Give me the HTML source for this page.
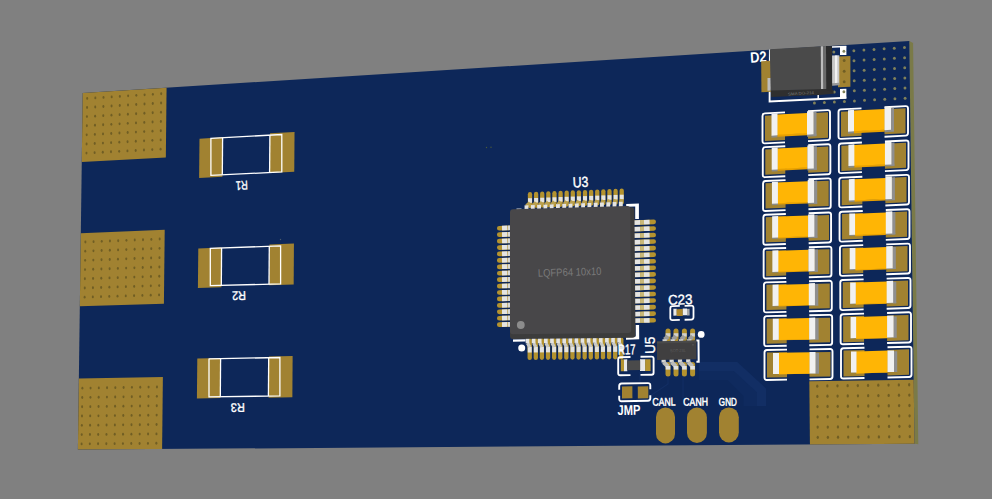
<!DOCTYPE html>
<html><head><meta charset="utf-8"><title>PCB 3D view</title>
<style>
html,body{margin:0;padding:0;background:#808080;overflow:hidden}
body{width:992px;height:499px;position:relative;font-family:"Liberation Sans",sans-serif}
</style></head><body>
<svg width="992" height="499" viewBox="0 0 992 499" style="display:block;position:absolute;left:0;top:0" font-family="'Liberation Sans', sans-serif" shape-rendering="geometricPrecision">
<polygon points="909.30,41.00 913.10,43.00 918.30,444.30 914.50,443.80" fill="#7a7a48" />
<polygon points="82.70,92.90 909.30,41.00 914.50,443.80 77.90,449.60" fill="#0d2759" />
<polyline points="699,371 731,371 752.5,392.5 752.5,406" fill="none" stroke="#0f2a5e" stroke-width="18" stroke-linejoin="miter"/>
<polyline points="699,366.5 735.5,366.5 761.5,390.4 761.5,406" fill="none" stroke="#122e64" stroke-width="9" stroke-linejoin="miter"/>
<polyline points="683.00,376.00 683.00,398.00" fill="none" stroke="#122e63" stroke-width="1.20" stroke-linejoin="round"/>
<polyline points="668.00,376.00 668.00,384.00 650.00,396.00" fill="none" stroke="#122e63" stroke-width="1.20" stroke-linejoin="round"/>
<polyline points="640.00,372.00 640.00,384.00" fill="none" stroke="#122e63" stroke-width="1.20" stroke-linejoin="round"/>
<polygon points="82.70,92.90 166.58,87.63 165.83,157.53 81.77,161.90" fill="#a18231" />
<ellipse cx="87.20" cy="98.40" rx="0.99" ry="1.43" fill="#705e24" />
<ellipse cx="87.08" cy="107.50" rx="0.99" ry="1.43" fill="#705e24" />
<ellipse cx="86.96" cy="116.61" rx="0.99" ry="1.43" fill="#705e24" />
<ellipse cx="86.84" cy="125.73" rx="0.99" ry="1.43" fill="#705e24" />
<ellipse cx="86.71" cy="134.85" rx="0.99" ry="1.43" fill="#705e24" />
<ellipse cx="86.59" cy="143.97" rx="0.99" ry="1.43" fill="#705e24" />
<ellipse cx="86.47" cy="153.10" rx="0.99" ry="1.43" fill="#705e24" />
<ellipse cx="95.34" cy="97.90" rx="1.00" ry="1.43" fill="#705e24" />
<ellipse cx="95.22" cy="107.01" rx="1.00" ry="1.43" fill="#705e24" />
<ellipse cx="95.10" cy="116.13" rx="1.00" ry="1.43" fill="#705e24" />
<ellipse cx="94.98" cy="125.26" rx="1.00" ry="1.43" fill="#705e24" />
<ellipse cx="94.86" cy="134.39" rx="1.00" ry="1.43" fill="#705e24" />
<ellipse cx="94.74" cy="143.53" rx="1.00" ry="1.43" fill="#705e24" />
<ellipse cx="94.62" cy="152.67" rx="1.00" ry="1.43" fill="#705e24" />
<ellipse cx="103.50" cy="97.39" rx="1.00" ry="1.43" fill="#705e24" />
<ellipse cx="103.38" cy="106.52" rx="1.00" ry="1.43" fill="#705e24" />
<ellipse cx="103.26" cy="115.65" rx="1.00" ry="1.43" fill="#705e24" />
<ellipse cx="103.15" cy="124.79" rx="1.00" ry="1.43" fill="#705e24" />
<ellipse cx="103.03" cy="133.93" rx="1.00" ry="1.43" fill="#705e24" />
<ellipse cx="102.91" cy="143.08" rx="1.00" ry="1.43" fill="#705e24" />
<ellipse cx="102.79" cy="152.23" rx="1.00" ry="1.43" fill="#705e24" />
<ellipse cx="111.67" cy="96.89" rx="1.00" ry="1.43" fill="#705e24" />
<ellipse cx="111.56" cy="106.02" rx="1.00" ry="1.43" fill="#705e24" />
<ellipse cx="111.45" cy="115.17" rx="1.00" ry="1.43" fill="#705e24" />
<ellipse cx="111.33" cy="124.32" rx="1.00" ry="1.43" fill="#705e24" />
<ellipse cx="111.22" cy="133.47" rx="1.00" ry="1.43" fill="#705e24" />
<ellipse cx="111.10" cy="142.63" rx="1.00" ry="1.43" fill="#705e24" />
<ellipse cx="110.99" cy="151.79" rx="1.00" ry="1.43" fill="#705e24" />
<ellipse cx="119.87" cy="96.38" rx="1.00" ry="1.44" fill="#705e24" />
<ellipse cx="119.76" cy="105.53" rx="1.00" ry="1.44" fill="#705e24" />
<ellipse cx="119.65" cy="114.68" rx="1.00" ry="1.44" fill="#705e24" />
<ellipse cx="119.54" cy="123.84" rx="1.00" ry="1.44" fill="#705e24" />
<ellipse cx="119.43" cy="133.01" rx="1.00" ry="1.44" fill="#705e24" />
<ellipse cx="119.31" cy="142.18" rx="1.00" ry="1.44" fill="#705e24" />
<ellipse cx="119.20" cy="151.36" rx="1.00" ry="1.44" fill="#705e24" />
<ellipse cx="128.10" cy="95.87" rx="1.00" ry="1.44" fill="#705e24" />
<ellipse cx="127.99" cy="105.03" rx="1.00" ry="1.44" fill="#705e24" />
<ellipse cx="127.88" cy="114.20" rx="1.00" ry="1.44" fill="#705e24" />
<ellipse cx="127.77" cy="123.37" rx="1.00" ry="1.44" fill="#705e24" />
<ellipse cx="127.66" cy="132.55" rx="1.00" ry="1.44" fill="#705e24" />
<ellipse cx="127.55" cy="141.73" rx="1.00" ry="1.44" fill="#705e24" />
<ellipse cx="127.43" cy="150.92" rx="1.00" ry="1.44" fill="#705e24" />
<ellipse cx="136.34" cy="95.36" rx="1.00" ry="1.44" fill="#705e24" />
<ellipse cx="136.23" cy="104.53" rx="1.00" ry="1.44" fill="#705e24" />
<ellipse cx="136.12" cy="113.71" rx="1.00" ry="1.44" fill="#705e24" />
<ellipse cx="136.01" cy="122.89" rx="1.00" ry="1.44" fill="#705e24" />
<ellipse cx="135.91" cy="132.08" rx="1.00" ry="1.44" fill="#705e24" />
<ellipse cx="135.80" cy="141.28" rx="1.00" ry="1.44" fill="#705e24" />
<ellipse cx="135.69" cy="150.48" rx="1.00" ry="1.44" fill="#705e24" />
<ellipse cx="144.60" cy="94.85" rx="1.01" ry="1.44" fill="#705e24" />
<ellipse cx="144.50" cy="104.03" rx="1.01" ry="1.44" fill="#705e24" />
<ellipse cx="144.39" cy="113.22" rx="1.01" ry="1.44" fill="#705e24" />
<ellipse cx="144.28" cy="122.42" rx="1.01" ry="1.44" fill="#705e24" />
<ellipse cx="144.18" cy="131.62" rx="1.01" ry="1.44" fill="#705e24" />
<ellipse cx="144.07" cy="140.82" rx="1.01" ry="1.44" fill="#705e24" />
<ellipse cx="143.97" cy="150.04" rx="1.01" ry="1.44" fill="#705e24" />
<ellipse cx="152.89" cy="94.34" rx="1.01" ry="1.44" fill="#705e24" />
<ellipse cx="152.78" cy="103.53" rx="1.01" ry="1.44" fill="#705e24" />
<ellipse cx="152.68" cy="112.73" rx="1.01" ry="1.44" fill="#705e24" />
<ellipse cx="152.58" cy="121.94" rx="1.01" ry="1.44" fill="#705e24" />
<ellipse cx="152.47" cy="131.15" rx="1.01" ry="1.44" fill="#705e24" />
<ellipse cx="152.37" cy="140.37" rx="1.01" ry="1.44" fill="#705e24" />
<ellipse cx="152.27" cy="149.59" rx="1.01" ry="1.44" fill="#705e24" />
<ellipse cx="161.19" cy="93.82" rx="1.01" ry="1.45" fill="#705e24" />
<ellipse cx="161.09" cy="103.03" rx="1.01" ry="1.45" fill="#705e24" />
<ellipse cx="160.99" cy="112.24" rx="1.01" ry="1.45" fill="#705e24" />
<ellipse cx="160.89" cy="121.46" rx="1.01" ry="1.45" fill="#705e24" />
<ellipse cx="160.79" cy="130.69" rx="1.01" ry="1.45" fill="#705e24" />
<ellipse cx="160.69" cy="139.91" rx="1.01" ry="1.45" fill="#705e24" />
<ellipse cx="160.59" cy="149.15" rx="1.01" ry="1.45" fill="#705e24" />
<polygon points="80.81,233.22 164.71,229.80 163.91,303.80 79.83,306.27" fill="#a18231" />
<ellipse cx="85.37" cy="241.99" rx="0.99" ry="1.43" fill="#705e24" />
<ellipse cx="85.25" cy="251.17" rx="0.99" ry="1.43" fill="#705e24" />
<ellipse cx="85.13" cy="260.37" rx="0.99" ry="1.43" fill="#705e24" />
<ellipse cx="85.01" cy="269.56" rx="0.99" ry="1.43" fill="#705e24" />
<ellipse cx="84.88" cy="278.77" rx="0.99" ry="1.43" fill="#705e24" />
<ellipse cx="84.76" cy="287.98" rx="0.99" ry="1.43" fill="#705e24" />
<ellipse cx="84.64" cy="297.19" rx="0.99" ry="1.43" fill="#705e24" />
<ellipse cx="93.55" cy="241.66" rx="1.00" ry="1.43" fill="#705e24" />
<ellipse cx="93.43" cy="250.86" rx="1.00" ry="1.43" fill="#705e24" />
<ellipse cx="93.31" cy="260.07" rx="1.00" ry="1.43" fill="#705e24" />
<ellipse cx="93.19" cy="269.28" rx="1.00" ry="1.43" fill="#705e24" />
<ellipse cx="93.06" cy="278.49" rx="1.00" ry="1.43" fill="#705e24" />
<ellipse cx="92.94" cy="287.71" rx="1.00" ry="1.43" fill="#705e24" />
<ellipse cx="92.82" cy="296.94" rx="1.00" ry="1.43" fill="#705e24" />
<ellipse cx="101.74" cy="241.34" rx="1.00" ry="1.43" fill="#705e24" />
<ellipse cx="101.62" cy="250.55" rx="1.00" ry="1.43" fill="#705e24" />
<ellipse cx="101.50" cy="259.77" rx="1.00" ry="1.43" fill="#705e24" />
<ellipse cx="101.39" cy="268.99" rx="1.00" ry="1.43" fill="#705e24" />
<ellipse cx="101.27" cy="278.22" rx="1.00" ry="1.43" fill="#705e24" />
<ellipse cx="101.15" cy="287.45" rx="1.00" ry="1.43" fill="#705e24" />
<ellipse cx="101.03" cy="296.69" rx="1.00" ry="1.43" fill="#705e24" />
<ellipse cx="109.95" cy="241.02" rx="1.00" ry="1.43" fill="#705e24" />
<ellipse cx="109.84" cy="250.24" rx="1.00" ry="1.43" fill="#705e24" />
<ellipse cx="109.72" cy="259.47" rx="1.00" ry="1.43" fill="#705e24" />
<ellipse cx="109.61" cy="268.70" rx="1.00" ry="1.43" fill="#705e24" />
<ellipse cx="109.49" cy="277.94" rx="1.00" ry="1.43" fill="#705e24" />
<ellipse cx="109.37" cy="287.18" rx="1.00" ry="1.43" fill="#705e24" />
<ellipse cx="109.26" cy="296.43" rx="1.00" ry="1.43" fill="#705e24" />
<ellipse cx="118.19" cy="240.69" rx="1.00" ry="1.44" fill="#705e24" />
<ellipse cx="118.08" cy="249.93" rx="1.00" ry="1.43" fill="#705e24" />
<ellipse cx="117.96" cy="259.17" rx="1.00" ry="1.43" fill="#705e24" />
<ellipse cx="117.85" cy="268.41" rx="1.00" ry="1.43" fill="#705e24" />
<ellipse cx="117.74" cy="277.66" rx="1.00" ry="1.43" fill="#705e24" />
<ellipse cx="117.62" cy="286.92" rx="1.00" ry="1.43" fill="#705e24" />
<ellipse cx="117.51" cy="296.18" rx="1.00" ry="1.43" fill="#705e24" />
<ellipse cx="126.45" cy="240.37" rx="1.00" ry="1.44" fill="#705e24" />
<ellipse cx="126.33" cy="249.61" rx="1.00" ry="1.44" fill="#705e24" />
<ellipse cx="126.22" cy="258.86" rx="1.00" ry="1.44" fill="#705e24" />
<ellipse cx="126.11" cy="268.12" rx="1.00" ry="1.44" fill="#705e24" />
<ellipse cx="126.00" cy="277.38" rx="1.00" ry="1.44" fill="#705e24" />
<ellipse cx="125.89" cy="286.65" rx="1.00" ry="1.44" fill="#705e24" />
<ellipse cx="125.78" cy="295.92" rx="1.00" ry="1.44" fill="#705e24" />
<ellipse cx="134.72" cy="240.04" rx="1.00" ry="1.44" fill="#705e24" />
<ellipse cx="134.62" cy="249.30" rx="1.00" ry="1.44" fill="#705e24" />
<ellipse cx="134.51" cy="258.56" rx="1.00" ry="1.44" fill="#705e24" />
<ellipse cx="134.40" cy="267.83" rx="1.00" ry="1.44" fill="#705e24" />
<ellipse cx="134.29" cy="277.10" rx="1.00" ry="1.44" fill="#705e24" />
<ellipse cx="134.18" cy="286.38" rx="1.00" ry="1.44" fill="#705e24" />
<ellipse cx="134.07" cy="295.67" rx="1.00" ry="1.44" fill="#705e24" />
<ellipse cx="143.02" cy="239.71" rx="1.00" ry="1.44" fill="#705e24" />
<ellipse cx="142.92" cy="248.98" rx="1.00" ry="1.44" fill="#705e24" />
<ellipse cx="142.81" cy="258.26" rx="1.00" ry="1.44" fill="#705e24" />
<ellipse cx="142.70" cy="267.54" rx="1.00" ry="1.44" fill="#705e24" />
<ellipse cx="142.60" cy="276.82" rx="1.00" ry="1.44" fill="#705e24" />
<ellipse cx="142.49" cy="286.12" rx="1.00" ry="1.44" fill="#705e24" />
<ellipse cx="142.38" cy="295.41" rx="1.00" ry="1.44" fill="#705e24" />
<ellipse cx="151.34" cy="239.38" rx="1.01" ry="1.44" fill="#705e24" />
<ellipse cx="151.24" cy="248.67" rx="1.01" ry="1.44" fill="#705e24" />
<ellipse cx="151.14" cy="257.95" rx="1.01" ry="1.44" fill="#705e24" />
<ellipse cx="151.03" cy="267.25" rx="1.01" ry="1.44" fill="#705e24" />
<ellipse cx="150.93" cy="276.54" rx="1.01" ry="1.44" fill="#705e24" />
<ellipse cx="150.82" cy="285.85" rx="1.01" ry="1.44" fill="#705e24" />
<ellipse cx="150.72" cy="295.16" rx="1.01" ry="1.44" fill="#705e24" />
<ellipse cx="159.69" cy="239.06" rx="1.01" ry="1.45" fill="#705e24" />
<ellipse cx="159.58" cy="248.35" rx="1.01" ry="1.45" fill="#705e24" />
<ellipse cx="159.48" cy="257.65" rx="1.01" ry="1.45" fill="#705e24" />
<ellipse cx="159.38" cy="266.95" rx="1.01" ry="1.45" fill="#705e24" />
<ellipse cx="159.28" cy="276.26" rx="1.01" ry="1.45" fill="#705e24" />
<ellipse cx="159.18" cy="285.58" rx="1.01" ry="1.45" fill="#705e24" />
<ellipse cx="159.07" cy="294.90" rx="1.01" ry="1.45" fill="#705e24" />
<polygon points="78.86,378.54 162.88,377.03 162.10,449.02 77.90,449.60" fill="#a18231" />
<ellipse cx="82.36" cy="388.19" rx="0.99" ry="1.43" fill="#705e24" />
<ellipse cx="82.23" cy="397.47" rx="0.99" ry="1.43" fill="#705e24" />
<ellipse cx="82.11" cy="406.74" rx="0.99" ry="1.43" fill="#705e24" />
<ellipse cx="81.99" cy="416.02" rx="0.99" ry="1.43" fill="#705e24" />
<ellipse cx="81.86" cy="425.31" rx="0.99" ry="1.43" fill="#705e24" />
<ellipse cx="81.74" cy="434.60" rx="0.99" ry="1.42" fill="#705e24" />
<ellipse cx="81.61" cy="443.90" rx="0.99" ry="1.42" fill="#705e24" />
<ellipse cx="90.56" cy="388.06" rx="0.99" ry="1.43" fill="#705e24" />
<ellipse cx="90.44" cy="397.34" rx="0.99" ry="1.43" fill="#705e24" />
<ellipse cx="90.32" cy="406.63" rx="0.99" ry="1.43" fill="#705e24" />
<ellipse cx="90.20" cy="415.92" rx="0.99" ry="1.43" fill="#705e24" />
<ellipse cx="90.08" cy="425.22" rx="0.99" ry="1.43" fill="#705e24" />
<ellipse cx="89.95" cy="434.53" rx="0.99" ry="1.43" fill="#705e24" />
<ellipse cx="89.83" cy="443.84" rx="0.99" ry="1.43" fill="#705e24" />
<ellipse cx="98.79" cy="387.92" rx="1.00" ry="1.43" fill="#705e24" />
<ellipse cx="98.67" cy="397.22" rx="1.00" ry="1.43" fill="#705e24" />
<ellipse cx="98.55" cy="406.52" rx="1.00" ry="1.43" fill="#705e24" />
<ellipse cx="98.43" cy="415.82" rx="1.00" ry="1.43" fill="#705e24" />
<ellipse cx="98.31" cy="425.14" rx="1.00" ry="1.43" fill="#705e24" />
<ellipse cx="98.19" cy="434.45" rx="1.00" ry="1.43" fill="#705e24" />
<ellipse cx="98.07" cy="443.77" rx="1.00" ry="1.43" fill="#705e24" />
<ellipse cx="107.04" cy="387.79" rx="1.00" ry="1.43" fill="#705e24" />
<ellipse cx="106.92" cy="397.09" rx="1.00" ry="1.43" fill="#705e24" />
<ellipse cx="106.80" cy="406.41" rx="1.00" ry="1.43" fill="#705e24" />
<ellipse cx="106.69" cy="415.72" rx="1.00" ry="1.43" fill="#705e24" />
<ellipse cx="106.57" cy="425.05" rx="1.00" ry="1.43" fill="#705e24" />
<ellipse cx="106.45" cy="434.38" rx="1.00" ry="1.43" fill="#705e24" />
<ellipse cx="106.33" cy="443.71" rx="1.00" ry="1.43" fill="#705e24" />
<ellipse cx="115.31" cy="387.65" rx="1.00" ry="1.43" fill="#705e24" />
<ellipse cx="115.19" cy="396.97" rx="1.00" ry="1.43" fill="#705e24" />
<ellipse cx="115.08" cy="406.29" rx="1.00" ry="1.43" fill="#705e24" />
<ellipse cx="114.96" cy="415.62" rx="1.00" ry="1.43" fill="#705e24" />
<ellipse cx="114.85" cy="424.96" rx="1.00" ry="1.43" fill="#705e24" />
<ellipse cx="114.73" cy="434.30" rx="1.00" ry="1.43" fill="#705e24" />
<ellipse cx="114.62" cy="443.65" rx="1.00" ry="1.43" fill="#705e24" />
<ellipse cx="123.60" cy="387.51" rx="1.00" ry="1.44" fill="#705e24" />
<ellipse cx="123.48" cy="396.84" rx="1.00" ry="1.44" fill="#705e24" />
<ellipse cx="123.37" cy="406.18" rx="1.00" ry="1.44" fill="#705e24" />
<ellipse cx="123.26" cy="415.52" rx="1.00" ry="1.44" fill="#705e24" />
<ellipse cx="123.15" cy="424.87" rx="1.00" ry="1.44" fill="#705e24" />
<ellipse cx="123.03" cy="434.22" rx="1.00" ry="1.44" fill="#705e24" />
<ellipse cx="122.92" cy="443.58" rx="1.00" ry="1.44" fill="#705e24" />
<ellipse cx="131.91" cy="387.37" rx="1.00" ry="1.44" fill="#705e24" />
<ellipse cx="131.80" cy="396.72" rx="1.00" ry="1.44" fill="#705e24" />
<ellipse cx="131.69" cy="406.07" rx="1.00" ry="1.44" fill="#705e24" />
<ellipse cx="131.58" cy="415.42" rx="1.00" ry="1.44" fill="#705e24" />
<ellipse cx="131.47" cy="424.78" rx="1.00" ry="1.44" fill="#705e24" />
<ellipse cx="131.36" cy="434.14" rx="1.00" ry="1.44" fill="#705e24" />
<ellipse cx="131.25" cy="443.52" rx="1.00" ry="1.44" fill="#705e24" />
<ellipse cx="140.24" cy="387.24" rx="1.00" ry="1.44" fill="#705e24" />
<ellipse cx="140.13" cy="396.59" rx="1.00" ry="1.44" fill="#705e24" />
<ellipse cx="140.03" cy="405.95" rx="1.00" ry="1.44" fill="#705e24" />
<ellipse cx="139.92" cy="415.32" rx="1.00" ry="1.44" fill="#705e24" />
<ellipse cx="139.81" cy="424.69" rx="1.00" ry="1.44" fill="#705e24" />
<ellipse cx="139.70" cy="434.07" rx="1.00" ry="1.44" fill="#705e24" />
<ellipse cx="139.59" cy="443.45" rx="1.00" ry="1.44" fill="#705e24" />
<ellipse cx="148.60" cy="387.10" rx="1.01" ry="1.44" fill="#705e24" />
<ellipse cx="148.49" cy="396.47" rx="1.01" ry="1.44" fill="#705e24" />
<ellipse cx="148.38" cy="405.84" rx="1.01" ry="1.44" fill="#705e24" />
<ellipse cx="148.28" cy="415.22" rx="1.01" ry="1.44" fill="#705e24" />
<ellipse cx="148.17" cy="424.60" rx="1.01" ry="1.44" fill="#705e24" />
<ellipse cx="148.07" cy="433.99" rx="1.01" ry="1.44" fill="#705e24" />
<ellipse cx="147.96" cy="443.38" rx="1.01" ry="1.44" fill="#705e24" />
<ellipse cx="156.97" cy="386.96" rx="1.01" ry="1.45" fill="#705e24" />
<ellipse cx="156.87" cy="396.34" rx="1.01" ry="1.45" fill="#705e24" />
<ellipse cx="156.77" cy="405.72" rx="1.01" ry="1.45" fill="#705e24" />
<ellipse cx="156.66" cy="415.11" rx="1.01" ry="1.45" fill="#705e24" />
<ellipse cx="156.56" cy="424.51" rx="1.01" ry="1.45" fill="#705e24" />
<ellipse cx="156.46" cy="433.91" rx="1.01" ry="1.45" fill="#705e24" />
<ellipse cx="156.35" cy="443.32" rx="1.01" ry="1.45" fill="#705e24" />
<polygon points="809.32,381.30 913.67,379.65 914.50,443.80 809.93,444.52" fill="#a18231" />
<ellipse cx="817.26" cy="386.15" rx="1.13" ry="1.63" fill="#705e24" />
<ellipse cx="817.37" cy="396.38" rx="1.13" ry="1.63" fill="#705e24" />
<ellipse cx="817.47" cy="406.61" rx="1.13" ry="1.63" fill="#705e24" />
<ellipse cx="817.57" cy="416.86" rx="1.13" ry="1.63" fill="#705e24" />
<ellipse cx="817.67" cy="427.11" rx="1.13" ry="1.63" fill="#705e24" />
<ellipse cx="817.77" cy="437.36" rx="1.13" ry="1.63" fill="#705e24" />
<ellipse cx="827.36" cy="385.99" rx="1.14" ry="1.63" fill="#705e24" />
<ellipse cx="827.47" cy="396.24" rx="1.14" ry="1.63" fill="#705e24" />
<ellipse cx="827.57" cy="406.49" rx="1.14" ry="1.63" fill="#705e24" />
<ellipse cx="827.68" cy="416.75" rx="1.14" ry="1.63" fill="#705e24" />
<ellipse cx="827.78" cy="427.01" rx="1.14" ry="1.63" fill="#705e24" />
<ellipse cx="827.88" cy="437.28" rx="1.14" ry="1.63" fill="#705e24" />
<ellipse cx="837.49" cy="385.84" rx="1.14" ry="1.63" fill="#705e24" />
<ellipse cx="837.60" cy="396.10" rx="1.14" ry="1.63" fill="#705e24" />
<ellipse cx="837.70" cy="406.37" rx="1.14" ry="1.63" fill="#705e24" />
<ellipse cx="837.81" cy="416.64" rx="1.14" ry="1.63" fill="#705e24" />
<ellipse cx="837.92" cy="426.92" rx="1.14" ry="1.63" fill="#705e24" />
<ellipse cx="838.03" cy="437.20" rx="1.14" ry="1.63" fill="#705e24" />
<ellipse cx="847.64" cy="385.69" rx="1.14" ry="1.64" fill="#705e24" />
<ellipse cx="847.75" cy="395.96" rx="1.14" ry="1.64" fill="#705e24" />
<ellipse cx="847.87" cy="406.24" rx="1.14" ry="1.64" fill="#705e24" />
<ellipse cx="847.98" cy="416.53" rx="1.14" ry="1.64" fill="#705e24" />
<ellipse cx="848.09" cy="426.82" rx="1.14" ry="1.64" fill="#705e24" />
<ellipse cx="848.20" cy="437.12" rx="1.14" ry="1.64" fill="#705e24" />
<ellipse cx="857.83" cy="385.53" rx="1.14" ry="1.64" fill="#705e24" />
<ellipse cx="857.94" cy="395.82" rx="1.14" ry="1.64" fill="#705e24" />
<ellipse cx="858.06" cy="406.12" rx="1.14" ry="1.64" fill="#705e24" />
<ellipse cx="858.17" cy="416.42" rx="1.14" ry="1.64" fill="#705e24" />
<ellipse cx="858.29" cy="426.73" rx="1.14" ry="1.64" fill="#705e24" />
<ellipse cx="858.40" cy="437.04" rx="1.14" ry="1.64" fill="#705e24" />
<ellipse cx="868.04" cy="385.38" rx="1.14" ry="1.64" fill="#705e24" />
<ellipse cx="868.16" cy="395.68" rx="1.14" ry="1.64" fill="#705e24" />
<ellipse cx="868.28" cy="405.99" rx="1.14" ry="1.64" fill="#705e24" />
<ellipse cx="868.39" cy="416.31" rx="1.14" ry="1.64" fill="#705e24" />
<ellipse cx="868.51" cy="426.63" rx="1.14" ry="1.64" fill="#705e24" />
<ellipse cx="868.63" cy="436.96" rx="1.14" ry="1.64" fill="#705e24" />
<ellipse cx="878.28" cy="385.22" rx="1.15" ry="1.64" fill="#705e24" />
<ellipse cx="878.40" cy="395.54" rx="1.15" ry="1.64" fill="#705e24" />
<ellipse cx="878.53" cy="405.86" rx="1.15" ry="1.64" fill="#705e24" />
<ellipse cx="878.65" cy="416.20" rx="1.15" ry="1.64" fill="#705e24" />
<ellipse cx="878.77" cy="426.53" rx="1.15" ry="1.64" fill="#705e24" />
<ellipse cx="878.89" cy="436.88" rx="1.15" ry="1.64" fill="#705e24" />
<ellipse cx="888.55" cy="385.07" rx="1.15" ry="1.65" fill="#705e24" />
<ellipse cx="888.68" cy="395.40" rx="1.15" ry="1.65" fill="#705e24" />
<ellipse cx="888.80" cy="405.74" rx="1.15" ry="1.65" fill="#705e24" />
<ellipse cx="888.93" cy="416.08" rx="1.15" ry="1.65" fill="#705e24" />
<ellipse cx="889.05" cy="426.44" rx="1.15" ry="1.65" fill="#705e24" />
<ellipse cx="889.18" cy="436.80" rx="1.15" ry="1.65" fill="#705e24" />
<ellipse cx="898.85" cy="384.91" rx="1.15" ry="1.65" fill="#705e24" />
<ellipse cx="898.98" cy="395.26" rx="1.15" ry="1.65" fill="#705e24" />
<ellipse cx="899.11" cy="405.61" rx="1.15" ry="1.65" fill="#705e24" />
<ellipse cx="899.24" cy="415.97" rx="1.15" ry="1.65" fill="#705e24" />
<ellipse cx="899.37" cy="426.34" rx="1.15" ry="1.65" fill="#705e24" />
<ellipse cx="899.50" cy="436.71" rx="1.15" ry="1.65" fill="#705e24" />
<ellipse cx="909.18" cy="384.76" rx="1.15" ry="1.65" fill="#705e24" />
<ellipse cx="909.32" cy="395.12" rx="1.15" ry="1.65" fill="#705e24" />
<ellipse cx="909.45" cy="405.49" rx="1.15" ry="1.65" fill="#705e24" />
<ellipse cx="909.58" cy="415.86" rx="1.15" ry="1.65" fill="#705e24" />
<ellipse cx="909.71" cy="426.24" rx="1.15" ry="1.65" fill="#705e24" />
<ellipse cx="909.85" cy="436.63" rx="1.15" ry="1.65" fill="#705e24" />
<ellipse cx="814.42" cy="103.12" rx="1.45" ry="1.50" fill="#80815a" />
<ellipse cx="824.38" cy="102.57" rx="1.45" ry="1.50" fill="#80815a" />
<ellipse cx="833.85" cy="51.94" rx="1.45" ry="1.50" fill="#80815a" />
<ellipse cx="834.27" cy="92.00" rx="1.45" ry="1.50" fill="#80815a" />
<ellipse cx="834.38" cy="102.03" rx="1.45" ry="1.50" fill="#80815a" />
<ellipse cx="844.40" cy="101.48" rx="1.45" ry="1.50" fill="#80815a" />
<ellipse cx="853.88" cy="50.70" rx="1.45" ry="1.50" fill="#80815a" />
<ellipse cx="854.00" cy="60.73" rx="1.45" ry="1.50" fill="#80815a" />
<ellipse cx="854.11" cy="70.77" rx="1.45" ry="1.50" fill="#80815a" />
<ellipse cx="854.22" cy="80.82" rx="1.45" ry="1.50" fill="#80815a" />
<ellipse cx="854.33" cy="90.87" rx="1.45" ry="1.50" fill="#80815a" />
<ellipse cx="854.44" cy="100.92" rx="1.45" ry="1.50" fill="#80815a" />
<ellipse cx="863.94" cy="50.08" rx="1.45" ry="1.50" fill="#80815a" />
<ellipse cx="864.06" cy="60.12" rx="1.45" ry="1.50" fill="#80815a" />
<ellipse cx="864.17" cy="70.18" rx="1.45" ry="1.50" fill="#80815a" />
<ellipse cx="864.29" cy="80.23" rx="1.45" ry="1.50" fill="#80815a" />
<ellipse cx="864.40" cy="90.30" rx="1.45" ry="1.50" fill="#80815a" />
<ellipse cx="864.52" cy="100.37" rx="1.45" ry="1.50" fill="#80815a" />
<ellipse cx="874.03" cy="49.45" rx="1.45" ry="1.50" fill="#80815a" />
<ellipse cx="874.15" cy="59.51" rx="1.45" ry="1.50" fill="#80815a" />
<ellipse cx="874.27" cy="69.58" rx="1.45" ry="1.50" fill="#80815a" />
<ellipse cx="874.39" cy="79.65" rx="1.45" ry="1.50" fill="#80815a" />
<ellipse cx="874.51" cy="89.73" rx="1.45" ry="1.50" fill="#80815a" />
<ellipse cx="874.62" cy="99.82" rx="1.45" ry="1.50" fill="#80815a" />
<ellipse cx="884.15" cy="48.83" rx="1.45" ry="1.50" fill="#80815a" />
<ellipse cx="884.27" cy="58.90" rx="1.45" ry="1.50" fill="#80815a" />
<ellipse cx="884.39" cy="68.98" rx="1.45" ry="1.50" fill="#80815a" />
<ellipse cx="884.51" cy="79.07" rx="1.45" ry="1.50" fill="#80815a" />
<ellipse cx="884.63" cy="89.16" rx="1.45" ry="1.50" fill="#80815a" />
<ellipse cx="884.76" cy="99.26" rx="1.45" ry="1.50" fill="#80815a" />
<ellipse cx="894.29" cy="48.20" rx="1.45" ry="1.50" fill="#80815a" />
<ellipse cx="894.42" cy="58.29" rx="1.45" ry="1.50" fill="#80815a" />
<ellipse cx="894.54" cy="68.38" rx="1.45" ry="1.50" fill="#80815a" />
<ellipse cx="894.67" cy="78.48" rx="1.45" ry="1.50" fill="#80815a" />
<ellipse cx="894.79" cy="88.59" rx="1.45" ry="1.50" fill="#80815a" />
<ellipse cx="894.92" cy="98.70" rx="1.45" ry="1.50" fill="#80815a" />
<ellipse cx="904.46" cy="47.57" rx="1.45" ry="1.50" fill="#80815a" />
<ellipse cx="904.59" cy="57.67" rx="1.45" ry="1.50" fill="#80815a" />
<ellipse cx="904.72" cy="67.78" rx="1.45" ry="1.50" fill="#80815a" />
<ellipse cx="904.85" cy="77.89" rx="1.45" ry="1.50" fill="#80815a" />
<ellipse cx="904.98" cy="88.02" rx="1.45" ry="1.50" fill="#80815a" />
<ellipse cx="905.11" cy="98.14" rx="1.45" ry="1.50" fill="#80815a" />
<ellipse cx="486.50" cy="147.50" rx="0.70" ry="0.70" fill="#4a5a3a" />
<ellipse cx="491.00" cy="147.30" rx="0.70" ry="0.70" fill="#4a5a3a" />
<ellipse cx="280.50" cy="239.50" rx="0.70" ry="0.70" fill="#4a5a6a" />
<polygon points="199.49,138.63 222.78,137.35 222.43,176.84 199.10,177.98" fill="#a18231" />
<polygon points="270.04,133.26 294.54,131.92 294.27,171.81 269.75,173.01" fill="#a18231" />
<polyline points="210.90,138.30 281.80,134.50 281.80,172.00 210.90,175.30 210.90,137.80" fill="none" stroke="#ffffff" stroke-width="1.30" />
<polyline points="222.60,137.67 222.30,174.76" fill="none" stroke="#ffffff" stroke-width="1.30" />
<polyline points="269.90,135.14 269.60,172.55" fill="none" stroke="#ffffff" stroke-width="1.30" />
<text x="241.80" y="190.07" font-size="12.50" font-weight="normal" fill="#fff" stroke="#fff" stroke-width="0.40" text-anchor="middle" transform="rotate(177.30 241.80 185.60)" textLength="11.8" lengthAdjust="spacingAndGlyphs" >R1</text>
<polygon points="198.29,248.44 221.78,247.55 221.43,287.13 197.90,287.88" fill="#a18231" />
<polygon points="269.45,244.46 293.94,243.53 293.67,284.42 269.14,285.19" fill="#a18231" />
<polyline points="210.30,248.30 280.60,245.90 280.60,283.90 210.30,285.60 210.30,247.80" fill="none" stroke="#ffffff" stroke-width="1.30" />
<polyline points="221.60,247.91 221.30,285.33" fill="none" stroke="#ffffff" stroke-width="1.30" />
<polyline points="269.30,246.29 269.00,284.17" fill="none" stroke="#ffffff" stroke-width="1.30" />
<text x="239.10" y="300.28" font-size="12.50" font-weight="normal" fill="#fff" stroke="#fff" stroke-width="0.40" text-anchor="middle" transform="rotate(178.27 239.10 295.80)" textLength="13.8" lengthAdjust="spacingAndGlyphs" >R2</text>
<polygon points="197.29,358.44 220.78,357.95 220.42,398.03 196.90,398.38" fill="#a18231" />
<polygon points="268.85,356.45 292.64,355.95 292.36,397.33 268.54,397.68" fill="#a18231" />
<polyline points="209.00,358.90 279.90,357.50 279.90,395.90 209.00,396.90 209.00,358.40" fill="none" stroke="#ffffff" stroke-width="1.30" />
<polyline points="220.60,358.67 220.30,396.74" fill="none" stroke="#ffffff" stroke-width="1.30" />
<polyline points="268.70,357.72 268.40,396.06" fill="none" stroke="#ffffff" stroke-width="1.30" />
<text x="237.80" y="412.18" font-size="12.50" font-weight="normal" fill="#fff" stroke="#fff" stroke-width="0.40" text-anchor="middle" transform="rotate(179.25 237.80 407.70)" textLength="13.8" lengthAdjust="spacingAndGlyphs" >R3</text>
<line x1="530.00" y1="194.15" x2="530.00" y2="206.00" stroke="#b4932f" stroke-width="4.30" stroke-linecap="round"/>
<line x1="530.00" y1="198.20" x2="530.00" y2="202.80" stroke="#e4e4e2" stroke-width="4.00" stroke-linecap="butt"/>
<line x1="530.00" y1="202.80" x2="526.50" y2="205.80" stroke="#b9a050" stroke-width="3.70" stroke-linecap="butt"/>
<line x1="526.50" y1="205.30" x2="526.50" y2="211.50" stroke="#e4e4e2" stroke-width="3.90" stroke-linecap="butt"/>
<line x1="536.11" y1="193.92" x2="536.11" y2="205.77" stroke="#b4932f" stroke-width="4.30" stroke-linecap="round"/>
<line x1="536.11" y1="197.97" x2="536.11" y2="202.57" stroke="#e4e4e2" stroke-width="4.00" stroke-linecap="butt"/>
<line x1="536.11" y1="202.57" x2="532.79" y2="205.57" stroke="#b9a050" stroke-width="3.70" stroke-linecap="butt"/>
<line x1="532.79" y1="205.07" x2="532.79" y2="211.27" stroke="#e4e4e2" stroke-width="3.90" stroke-linecap="butt"/>
<line x1="542.23" y1="193.68" x2="542.23" y2="205.53" stroke="#b4932f" stroke-width="4.30" stroke-linecap="round"/>
<line x1="542.23" y1="197.73" x2="542.23" y2="202.33" stroke="#e4e4e2" stroke-width="4.00" stroke-linecap="butt"/>
<line x1="542.23" y1="202.33" x2="539.07" y2="205.33" stroke="#b9a050" stroke-width="3.70" stroke-linecap="butt"/>
<line x1="539.07" y1="204.83" x2="539.07" y2="211.03" stroke="#e4e4e2" stroke-width="3.90" stroke-linecap="butt"/>
<line x1="548.34" y1="193.45" x2="548.34" y2="205.30" stroke="#b4932f" stroke-width="4.30" stroke-linecap="round"/>
<line x1="548.34" y1="197.50" x2="548.34" y2="202.10" stroke="#e4e4e2" stroke-width="4.00" stroke-linecap="butt"/>
<line x1="548.34" y1="202.10" x2="545.36" y2="205.10" stroke="#b9a050" stroke-width="3.70" stroke-linecap="butt"/>
<line x1="545.36" y1="204.60" x2="545.36" y2="210.80" stroke="#e4e4e2" stroke-width="3.90" stroke-linecap="butt"/>
<line x1="554.45" y1="193.22" x2="554.45" y2="205.07" stroke="#b4932f" stroke-width="4.30" stroke-linecap="round"/>
<line x1="554.45" y1="197.27" x2="554.45" y2="201.87" stroke="#e4e4e2" stroke-width="4.00" stroke-linecap="butt"/>
<line x1="554.45" y1="201.87" x2="551.65" y2="204.87" stroke="#b9a050" stroke-width="3.70" stroke-linecap="butt"/>
<line x1="551.65" y1="204.37" x2="551.65" y2="210.57" stroke="#e4e4e2" stroke-width="3.90" stroke-linecap="butt"/>
<line x1="560.57" y1="192.98" x2="560.57" y2="204.83" stroke="#b4932f" stroke-width="4.30" stroke-linecap="round"/>
<line x1="560.57" y1="197.03" x2="560.57" y2="201.63" stroke="#e4e4e2" stroke-width="4.00" stroke-linecap="butt"/>
<line x1="560.57" y1="201.63" x2="557.93" y2="204.63" stroke="#b9a050" stroke-width="3.70" stroke-linecap="butt"/>
<line x1="557.93" y1="204.13" x2="557.93" y2="210.33" stroke="#e4e4e2" stroke-width="3.90" stroke-linecap="butt"/>
<line x1="566.68" y1="192.75" x2="566.68" y2="204.60" stroke="#b4932f" stroke-width="4.30" stroke-linecap="round"/>
<line x1="566.68" y1="196.80" x2="566.68" y2="201.40" stroke="#e4e4e2" stroke-width="4.00" stroke-linecap="butt"/>
<line x1="566.68" y1="201.40" x2="564.22" y2="204.40" stroke="#b9a050" stroke-width="3.70" stroke-linecap="butt"/>
<line x1="564.22" y1="203.90" x2="564.22" y2="210.10" stroke="#e4e4e2" stroke-width="3.90" stroke-linecap="butt"/>
<line x1="572.79" y1="192.52" x2="572.79" y2="204.37" stroke="#b4932f" stroke-width="4.30" stroke-linecap="round"/>
<line x1="572.79" y1="196.57" x2="572.79" y2="201.17" stroke="#e4e4e2" stroke-width="4.00" stroke-linecap="butt"/>
<line x1="572.79" y1="201.17" x2="570.51" y2="204.17" stroke="#b9a050" stroke-width="3.70" stroke-linecap="butt"/>
<line x1="570.51" y1="203.67" x2="570.51" y2="209.87" stroke="#e4e4e2" stroke-width="3.90" stroke-linecap="butt"/>
<line x1="578.91" y1="192.28" x2="578.91" y2="204.13" stroke="#b4932f" stroke-width="4.30" stroke-linecap="round"/>
<line x1="578.91" y1="196.33" x2="578.91" y2="200.93" stroke="#e4e4e2" stroke-width="4.00" stroke-linecap="butt"/>
<line x1="578.91" y1="200.93" x2="576.79" y2="203.93" stroke="#b9a050" stroke-width="3.70" stroke-linecap="butt"/>
<line x1="576.79" y1="203.43" x2="576.79" y2="209.63" stroke="#e4e4e2" stroke-width="3.90" stroke-linecap="butt"/>
<line x1="585.02" y1="192.05" x2="585.02" y2="203.90" stroke="#b4932f" stroke-width="4.30" stroke-linecap="round"/>
<line x1="585.02" y1="196.10" x2="585.02" y2="200.70" stroke="#e4e4e2" stroke-width="4.00" stroke-linecap="butt"/>
<line x1="585.02" y1="200.70" x2="583.08" y2="203.70" stroke="#b9a050" stroke-width="3.70" stroke-linecap="butt"/>
<line x1="583.08" y1="203.20" x2="583.08" y2="209.40" stroke="#e4e4e2" stroke-width="3.90" stroke-linecap="butt"/>
<line x1="591.13" y1="191.82" x2="591.13" y2="203.67" stroke="#b4932f" stroke-width="4.30" stroke-linecap="round"/>
<line x1="591.13" y1="195.87" x2="591.13" y2="200.47" stroke="#e4e4e2" stroke-width="4.00" stroke-linecap="butt"/>
<line x1="591.13" y1="200.47" x2="589.37" y2="203.47" stroke="#b9a050" stroke-width="3.70" stroke-linecap="butt"/>
<line x1="589.37" y1="202.97" x2="589.37" y2="209.17" stroke="#e4e4e2" stroke-width="3.90" stroke-linecap="butt"/>
<line x1="597.25" y1="191.58" x2="597.25" y2="203.43" stroke="#b4932f" stroke-width="4.30" stroke-linecap="round"/>
<line x1="597.25" y1="195.63" x2="597.25" y2="200.23" stroke="#e4e4e2" stroke-width="4.00" stroke-linecap="butt"/>
<line x1="597.25" y1="200.23" x2="595.65" y2="203.23" stroke="#b9a050" stroke-width="3.70" stroke-linecap="butt"/>
<line x1="595.65" y1="202.73" x2="595.65" y2="208.93" stroke="#e4e4e2" stroke-width="3.90" stroke-linecap="butt"/>
<line x1="603.36" y1="191.35" x2="603.36" y2="203.20" stroke="#b4932f" stroke-width="4.30" stroke-linecap="round"/>
<line x1="603.36" y1="195.40" x2="603.36" y2="200.00" stroke="#e4e4e2" stroke-width="4.00" stroke-linecap="butt"/>
<line x1="603.36" y1="200.00" x2="601.94" y2="203.00" stroke="#b9a050" stroke-width="3.70" stroke-linecap="butt"/>
<line x1="601.94" y1="202.50" x2="601.94" y2="208.70" stroke="#e4e4e2" stroke-width="3.90" stroke-linecap="butt"/>
<line x1="609.47" y1="191.12" x2="609.47" y2="202.97" stroke="#b4932f" stroke-width="4.30" stroke-linecap="round"/>
<line x1="609.47" y1="195.17" x2="609.47" y2="199.77" stroke="#e4e4e2" stroke-width="4.00" stroke-linecap="butt"/>
<line x1="609.47" y1="199.77" x2="608.23" y2="202.77" stroke="#b9a050" stroke-width="3.70" stroke-linecap="butt"/>
<line x1="608.23" y1="202.27" x2="608.23" y2="208.47" stroke="#e4e4e2" stroke-width="3.90" stroke-linecap="butt"/>
<line x1="615.59" y1="190.88" x2="615.59" y2="202.73" stroke="#b4932f" stroke-width="4.30" stroke-linecap="round"/>
<line x1="615.59" y1="194.93" x2="615.59" y2="199.53" stroke="#e4e4e2" stroke-width="4.00" stroke-linecap="butt"/>
<line x1="615.59" y1="199.53" x2="614.51" y2="202.53" stroke="#b9a050" stroke-width="3.70" stroke-linecap="butt"/>
<line x1="614.51" y1="202.03" x2="614.51" y2="208.23" stroke="#e4e4e2" stroke-width="3.90" stroke-linecap="butt"/>
<line x1="621.70" y1="190.65" x2="621.70" y2="202.50" stroke="#b4932f" stroke-width="4.30" stroke-linecap="round"/>
<line x1="621.70" y1="194.70" x2="621.70" y2="199.30" stroke="#e4e4e2" stroke-width="4.00" stroke-linecap="butt"/>
<line x1="621.70" y1="199.30" x2="620.80" y2="202.30" stroke="#b9a050" stroke-width="3.70" stroke-linecap="butt"/>
<line x1="620.80" y1="201.80" x2="620.80" y2="208.00" stroke="#e4e4e2" stroke-width="3.90" stroke-linecap="butt"/>
<line x1="529.70" y1="357.95" x2="529.70" y2="340.10" stroke="#b4932f" stroke-width="4.30" stroke-linecap="round"/>
<line x1="529.70" y1="352.50" x2="529.70" y2="346.80" stroke="#e4e4e2" stroke-width="4.00" stroke-linecap="butt"/>
<line x1="529.70" y1="347.10" x2="527.50" y2="343.10" stroke="#c9c9c5" stroke-width="3.30" stroke-linecap="butt"/>
<line x1="527.50" y1="343.30" x2="527.50" y2="337.60" stroke="#e4e4e2" stroke-width="3.70" stroke-linecap="butt"/>
<line x1="535.81" y1="357.90" x2="535.81" y2="340.05" stroke="#b4932f" stroke-width="4.30" stroke-linecap="round"/>
<line x1="535.81" y1="352.45" x2="535.81" y2="346.75" stroke="#e4e4e2" stroke-width="4.00" stroke-linecap="butt"/>
<line x1="535.81" y1="347.05" x2="533.61" y2="343.05" stroke="#c9c9c5" stroke-width="3.30" stroke-linecap="butt"/>
<line x1="533.61" y1="343.25" x2="533.61" y2="337.55" stroke="#e4e4e2" stroke-width="3.70" stroke-linecap="butt"/>
<line x1="541.91" y1="357.86" x2="541.91" y2="340.01" stroke="#b4932f" stroke-width="4.30" stroke-linecap="round"/>
<line x1="541.91" y1="352.41" x2="541.91" y2="346.71" stroke="#e4e4e2" stroke-width="4.00" stroke-linecap="butt"/>
<line x1="541.91" y1="347.01" x2="539.71" y2="343.01" stroke="#c9c9c5" stroke-width="3.30" stroke-linecap="butt"/>
<line x1="539.71" y1="343.21" x2="539.71" y2="337.51" stroke="#e4e4e2" stroke-width="3.70" stroke-linecap="butt"/>
<line x1="548.02" y1="357.81" x2="548.02" y2="339.96" stroke="#b4932f" stroke-width="4.30" stroke-linecap="round"/>
<line x1="548.02" y1="352.36" x2="548.02" y2="346.66" stroke="#e4e4e2" stroke-width="4.00" stroke-linecap="butt"/>
<line x1="548.02" y1="346.96" x2="545.82" y2="342.96" stroke="#c9c9c5" stroke-width="3.30" stroke-linecap="butt"/>
<line x1="545.82" y1="343.16" x2="545.82" y2="337.46" stroke="#e4e4e2" stroke-width="3.70" stroke-linecap="butt"/>
<line x1="554.13" y1="357.76" x2="554.13" y2="339.91" stroke="#b4932f" stroke-width="4.30" stroke-linecap="round"/>
<line x1="554.13" y1="352.31" x2="554.13" y2="346.61" stroke="#e4e4e2" stroke-width="4.00" stroke-linecap="butt"/>
<line x1="554.13" y1="346.91" x2="551.93" y2="342.91" stroke="#c9c9c5" stroke-width="3.30" stroke-linecap="butt"/>
<line x1="551.93" y1="343.11" x2="551.93" y2="337.41" stroke="#e4e4e2" stroke-width="3.70" stroke-linecap="butt"/>
<line x1="560.23" y1="357.72" x2="560.23" y2="339.87" stroke="#b4932f" stroke-width="4.30" stroke-linecap="round"/>
<line x1="560.23" y1="352.27" x2="560.23" y2="346.57" stroke="#e4e4e2" stroke-width="4.00" stroke-linecap="butt"/>
<line x1="560.23" y1="346.87" x2="558.03" y2="342.87" stroke="#c9c9c5" stroke-width="3.30" stroke-linecap="butt"/>
<line x1="558.03" y1="343.07" x2="558.03" y2="337.37" stroke="#e4e4e2" stroke-width="3.70" stroke-linecap="butt"/>
<line x1="566.34" y1="357.67" x2="566.34" y2="339.82" stroke="#b4932f" stroke-width="4.30" stroke-linecap="round"/>
<line x1="566.34" y1="352.22" x2="566.34" y2="346.52" stroke="#e4e4e2" stroke-width="4.00" stroke-linecap="butt"/>
<line x1="566.34" y1="346.82" x2="564.14" y2="342.82" stroke="#c9c9c5" stroke-width="3.30" stroke-linecap="butt"/>
<line x1="564.14" y1="343.02" x2="564.14" y2="337.32" stroke="#e4e4e2" stroke-width="3.70" stroke-linecap="butt"/>
<line x1="572.45" y1="357.62" x2="572.45" y2="339.77" stroke="#b4932f" stroke-width="4.30" stroke-linecap="round"/>
<line x1="572.45" y1="352.17" x2="572.45" y2="346.47" stroke="#e4e4e2" stroke-width="4.00" stroke-linecap="butt"/>
<line x1="572.45" y1="346.77" x2="570.25" y2="342.77" stroke="#c9c9c5" stroke-width="3.30" stroke-linecap="butt"/>
<line x1="570.25" y1="342.97" x2="570.25" y2="337.27" stroke="#e4e4e2" stroke-width="3.70" stroke-linecap="butt"/>
<line x1="578.55" y1="357.58" x2="578.55" y2="339.73" stroke="#b4932f" stroke-width="4.30" stroke-linecap="round"/>
<line x1="578.55" y1="352.13" x2="578.55" y2="346.43" stroke="#e4e4e2" stroke-width="4.00" stroke-linecap="butt"/>
<line x1="578.55" y1="346.73" x2="576.35" y2="342.73" stroke="#c9c9c5" stroke-width="3.30" stroke-linecap="butt"/>
<line x1="576.35" y1="342.93" x2="576.35" y2="337.23" stroke="#e4e4e2" stroke-width="3.70" stroke-linecap="butt"/>
<line x1="584.66" y1="357.53" x2="584.66" y2="339.68" stroke="#b4932f" stroke-width="4.30" stroke-linecap="round"/>
<line x1="584.66" y1="352.08" x2="584.66" y2="346.38" stroke="#e4e4e2" stroke-width="4.00" stroke-linecap="butt"/>
<line x1="584.66" y1="346.68" x2="582.46" y2="342.68" stroke="#c9c9c5" stroke-width="3.30" stroke-linecap="butt"/>
<line x1="582.46" y1="342.88" x2="582.46" y2="337.18" stroke="#e4e4e2" stroke-width="3.70" stroke-linecap="butt"/>
<line x1="590.77" y1="357.48" x2="590.77" y2="339.63" stroke="#b4932f" stroke-width="4.30" stroke-linecap="round"/>
<line x1="590.77" y1="352.03" x2="590.77" y2="346.33" stroke="#e4e4e2" stroke-width="4.00" stroke-linecap="butt"/>
<line x1="590.77" y1="346.63" x2="588.57" y2="342.63" stroke="#c9c9c5" stroke-width="3.30" stroke-linecap="butt"/>
<line x1="588.57" y1="342.83" x2="588.57" y2="337.13" stroke="#e4e4e2" stroke-width="3.70" stroke-linecap="butt"/>
<line x1="596.87" y1="357.44" x2="596.87" y2="339.59" stroke="#b4932f" stroke-width="4.30" stroke-linecap="round"/>
<line x1="596.87" y1="351.99" x2="596.87" y2="346.29" stroke="#e4e4e2" stroke-width="4.00" stroke-linecap="butt"/>
<line x1="596.87" y1="346.59" x2="594.67" y2="342.59" stroke="#c9c9c5" stroke-width="3.30" stroke-linecap="butt"/>
<line x1="594.67" y1="342.79" x2="594.67" y2="337.09" stroke="#e4e4e2" stroke-width="3.70" stroke-linecap="butt"/>
<line x1="602.98" y1="357.39" x2="602.98" y2="339.54" stroke="#b4932f" stroke-width="4.30" stroke-linecap="round"/>
<line x1="602.98" y1="351.94" x2="602.98" y2="346.24" stroke="#e4e4e2" stroke-width="4.00" stroke-linecap="butt"/>
<line x1="602.98" y1="346.54" x2="600.78" y2="342.54" stroke="#c9c9c5" stroke-width="3.30" stroke-linecap="butt"/>
<line x1="600.78" y1="342.74" x2="600.78" y2="337.04" stroke="#e4e4e2" stroke-width="3.70" stroke-linecap="butt"/>
<line x1="609.09" y1="357.34" x2="609.09" y2="339.49" stroke="#b4932f" stroke-width="4.30" stroke-linecap="round"/>
<line x1="609.09" y1="351.89" x2="609.09" y2="346.19" stroke="#e4e4e2" stroke-width="4.00" stroke-linecap="butt"/>
<line x1="609.09" y1="346.49" x2="606.89" y2="342.49" stroke="#c9c9c5" stroke-width="3.30" stroke-linecap="butt"/>
<line x1="606.89" y1="342.69" x2="606.89" y2="336.99" stroke="#e4e4e2" stroke-width="3.70" stroke-linecap="butt"/>
<line x1="615.19" y1="357.30" x2="615.19" y2="339.45" stroke="#b4932f" stroke-width="4.30" stroke-linecap="round"/>
<line x1="615.19" y1="351.85" x2="615.19" y2="346.15" stroke="#e4e4e2" stroke-width="4.00" stroke-linecap="butt"/>
<line x1="615.19" y1="346.45" x2="612.99" y2="342.45" stroke="#c9c9c5" stroke-width="3.30" stroke-linecap="butt"/>
<line x1="612.99" y1="342.65" x2="612.99" y2="336.95" stroke="#e4e4e2" stroke-width="3.70" stroke-linecap="butt"/>
<line x1="621.30" y1="357.25" x2="621.30" y2="339.40" stroke="#b4932f" stroke-width="4.30" stroke-linecap="round"/>
<line x1="621.30" y1="351.80" x2="621.30" y2="346.10" stroke="#e4e4e2" stroke-width="4.00" stroke-linecap="butt"/>
<line x1="621.30" y1="346.40" x2="619.10" y2="342.40" stroke="#c9c9c5" stroke-width="3.30" stroke-linecap="butt"/>
<line x1="619.10" y1="342.60" x2="619.10" y2="336.90" stroke="#e4e4e2" stroke-width="3.70" stroke-linecap="butt"/>
<line x1="499.30" y1="228.25" x2="512.00" y2="227.75" stroke="#b4932f" stroke-width="4.70" stroke-linecap="round"/>
<line x1="502.00" y1="228.14" x2="507.40" y2="227.93" stroke="#e4e4e2" stroke-width="4.70" stroke-linecap="butt"/>
<line x1="508.00" y1="227.91" x2="512.00" y2="227.75" stroke="#d8d8d6" stroke-width="4.70" stroke-linecap="butt"/>
<line x1="499.30" y1="234.68" x2="512.00" y2="234.19" stroke="#b4932f" stroke-width="4.70" stroke-linecap="round"/>
<line x1="502.00" y1="234.57" x2="507.40" y2="234.37" stroke="#e4e4e2" stroke-width="4.70" stroke-linecap="butt"/>
<line x1="508.00" y1="234.34" x2="512.00" y2="234.19" stroke="#d8d8d6" stroke-width="4.70" stroke-linecap="butt"/>
<line x1="499.30" y1="241.10" x2="512.00" y2="240.63" stroke="#b4932f" stroke-width="4.70" stroke-linecap="round"/>
<line x1="502.00" y1="241.00" x2="507.40" y2="240.80" stroke="#e4e4e2" stroke-width="4.70" stroke-linecap="butt"/>
<line x1="508.00" y1="240.78" x2="512.00" y2="240.63" stroke="#d8d8d6" stroke-width="4.70" stroke-linecap="butt"/>
<line x1="499.30" y1="247.53" x2="512.00" y2="247.07" stroke="#b4932f" stroke-width="4.70" stroke-linecap="round"/>
<line x1="502.00" y1="247.43" x2="507.40" y2="247.24" stroke="#e4e4e2" stroke-width="4.70" stroke-linecap="butt"/>
<line x1="508.00" y1="247.21" x2="512.00" y2="247.07" stroke="#d8d8d6" stroke-width="4.70" stroke-linecap="butt"/>
<line x1="499.30" y1="253.96" x2="512.00" y2="253.51" stroke="#b4932f" stroke-width="4.70" stroke-linecap="round"/>
<line x1="502.00" y1="253.86" x2="507.40" y2="253.67" stroke="#e4e4e2" stroke-width="4.70" stroke-linecap="butt"/>
<line x1="508.00" y1="253.65" x2="512.00" y2="253.51" stroke="#d8d8d6" stroke-width="4.70" stroke-linecap="butt"/>
<line x1="499.30" y1="260.38" x2="512.00" y2="259.95" stroke="#b4932f" stroke-width="4.70" stroke-linecap="round"/>
<line x1="502.00" y1="260.29" x2="507.40" y2="260.11" stroke="#e4e4e2" stroke-width="4.70" stroke-linecap="butt"/>
<line x1="508.00" y1="260.09" x2="512.00" y2="259.95" stroke="#d8d8d6" stroke-width="4.70" stroke-linecap="butt"/>
<line x1="499.30" y1="266.81" x2="512.00" y2="266.39" stroke="#b4932f" stroke-width="4.70" stroke-linecap="round"/>
<line x1="502.00" y1="266.72" x2="507.40" y2="266.54" stroke="#e4e4e2" stroke-width="4.70" stroke-linecap="butt"/>
<line x1="508.00" y1="266.52" x2="512.00" y2="266.39" stroke="#d8d8d6" stroke-width="4.70" stroke-linecap="butt"/>
<line x1="499.30" y1="273.24" x2="512.00" y2="272.83" stroke="#b4932f" stroke-width="4.70" stroke-linecap="round"/>
<line x1="502.00" y1="273.15" x2="507.40" y2="272.98" stroke="#e4e4e2" stroke-width="4.70" stroke-linecap="butt"/>
<line x1="508.00" y1="272.96" x2="512.00" y2="272.83" stroke="#d8d8d6" stroke-width="4.70" stroke-linecap="butt"/>
<line x1="499.30" y1="279.67" x2="512.00" y2="279.27" stroke="#b4932f" stroke-width="4.70" stroke-linecap="round"/>
<line x1="502.00" y1="279.58" x2="507.40" y2="279.41" stroke="#e4e4e2" stroke-width="4.70" stroke-linecap="butt"/>
<line x1="508.00" y1="279.39" x2="512.00" y2="279.27" stroke="#d8d8d6" stroke-width="4.70" stroke-linecap="butt"/>
<line x1="499.30" y1="286.09" x2="512.00" y2="285.71" stroke="#b4932f" stroke-width="4.70" stroke-linecap="round"/>
<line x1="502.00" y1="286.01" x2="507.40" y2="285.85" stroke="#e4e4e2" stroke-width="4.70" stroke-linecap="butt"/>
<line x1="508.00" y1="285.83" x2="512.00" y2="285.71" stroke="#d8d8d6" stroke-width="4.70" stroke-linecap="butt"/>
<line x1="499.30" y1="292.52" x2="512.00" y2="292.15" stroke="#b4932f" stroke-width="4.70" stroke-linecap="round"/>
<line x1="502.00" y1="292.44" x2="507.40" y2="292.28" stroke="#e4e4e2" stroke-width="4.70" stroke-linecap="butt"/>
<line x1="508.00" y1="292.26" x2="512.00" y2="292.15" stroke="#d8d8d6" stroke-width="4.70" stroke-linecap="butt"/>
<line x1="499.30" y1="298.95" x2="512.00" y2="298.58" stroke="#b4932f" stroke-width="4.70" stroke-linecap="round"/>
<line x1="502.00" y1="298.87" x2="507.40" y2="298.72" stroke="#e4e4e2" stroke-width="4.70" stroke-linecap="butt"/>
<line x1="508.00" y1="298.70" x2="512.00" y2="298.58" stroke="#d8d8d6" stroke-width="4.70" stroke-linecap="butt"/>
<line x1="499.30" y1="305.38" x2="512.00" y2="305.02" stroke="#b4932f" stroke-width="4.70" stroke-linecap="round"/>
<line x1="502.00" y1="305.30" x2="507.40" y2="305.15" stroke="#e4e4e2" stroke-width="4.70" stroke-linecap="butt"/>
<line x1="508.00" y1="305.13" x2="512.00" y2="305.02" stroke="#d8d8d6" stroke-width="4.70" stroke-linecap="butt"/>
<line x1="499.30" y1="311.80" x2="512.00" y2="311.46" stroke="#b4932f" stroke-width="4.70" stroke-linecap="round"/>
<line x1="502.00" y1="311.73" x2="507.40" y2="311.59" stroke="#e4e4e2" stroke-width="4.70" stroke-linecap="butt"/>
<line x1="508.00" y1="311.57" x2="512.00" y2="311.46" stroke="#d8d8d6" stroke-width="4.70" stroke-linecap="butt"/>
<line x1="499.30" y1="318.23" x2="512.00" y2="317.90" stroke="#b4932f" stroke-width="4.70" stroke-linecap="round"/>
<line x1="502.00" y1="318.16" x2="507.40" y2="318.02" stroke="#e4e4e2" stroke-width="4.70" stroke-linecap="butt"/>
<line x1="508.00" y1="318.01" x2="512.00" y2="317.90" stroke="#d8d8d6" stroke-width="4.70" stroke-linecap="butt"/>
<line x1="499.30" y1="324.66" x2="512.00" y2="324.34" stroke="#b4932f" stroke-width="4.70" stroke-linecap="round"/>
<line x1="502.00" y1="324.59" x2="507.40" y2="324.46" stroke="#e4e4e2" stroke-width="4.70" stroke-linecap="butt"/>
<line x1="508.00" y1="324.44" x2="512.00" y2="324.34" stroke="#d8d8d6" stroke-width="4.70" stroke-linecap="butt"/>
<line x1="632.00" y1="222.72" x2="653.70" y2="221.87" stroke="#b4932f" stroke-width="4.60" stroke-linecap="round"/>
<line x1="632.00" y1="222.72" x2="640.30" y2="222.40" stroke="#e4e4e2" stroke-width="4.60" stroke-linecap="butt"/>
<line x1="640.30" y1="222.40" x2="644.00" y2="222.25" stroke="#c9b878" stroke-width="4.60" stroke-linecap="butt"/>
<line x1="644.00" y1="222.25" x2="649.60" y2="222.03" stroke="#e4e4e2" stroke-width="4.60" stroke-linecap="butt"/>
<line x1="632.00" y1="229.26" x2="653.70" y2="228.43" stroke="#b4932f" stroke-width="4.60" stroke-linecap="round"/>
<line x1="632.00" y1="229.26" x2="640.30" y2="228.94" stroke="#e4e4e2" stroke-width="4.60" stroke-linecap="butt"/>
<line x1="640.30" y1="228.94" x2="644.00" y2="228.80" stroke="#c9b878" stroke-width="4.60" stroke-linecap="butt"/>
<line x1="644.00" y1="228.80" x2="649.60" y2="228.59" stroke="#e4e4e2" stroke-width="4.60" stroke-linecap="butt"/>
<line x1="632.00" y1="235.79" x2="653.70" y2="234.99" stroke="#b4932f" stroke-width="4.60" stroke-linecap="round"/>
<line x1="632.00" y1="235.79" x2="640.30" y2="235.48" stroke="#e4e4e2" stroke-width="4.60" stroke-linecap="butt"/>
<line x1="640.30" y1="235.48" x2="644.00" y2="235.35" stroke="#c9b878" stroke-width="4.60" stroke-linecap="butt"/>
<line x1="644.00" y1="235.35" x2="649.60" y2="235.14" stroke="#e4e4e2" stroke-width="4.60" stroke-linecap="butt"/>
<line x1="632.00" y1="242.33" x2="653.70" y2="241.54" stroke="#b4932f" stroke-width="4.60" stroke-linecap="round"/>
<line x1="632.00" y1="242.33" x2="640.30" y2="242.03" stroke="#e4e4e2" stroke-width="4.60" stroke-linecap="butt"/>
<line x1="640.30" y1="242.03" x2="644.00" y2="241.89" stroke="#c9b878" stroke-width="4.60" stroke-linecap="butt"/>
<line x1="644.00" y1="241.89" x2="649.60" y2="241.69" stroke="#e4e4e2" stroke-width="4.60" stroke-linecap="butt"/>
<line x1="632.00" y1="248.87" x2="653.70" y2="248.10" stroke="#b4932f" stroke-width="4.60" stroke-linecap="round"/>
<line x1="632.00" y1="248.87" x2="640.30" y2="248.57" stroke="#e4e4e2" stroke-width="4.60" stroke-linecap="butt"/>
<line x1="640.30" y1="248.57" x2="644.00" y2="248.44" stroke="#c9b878" stroke-width="4.60" stroke-linecap="butt"/>
<line x1="644.00" y1="248.44" x2="649.60" y2="248.24" stroke="#e4e4e2" stroke-width="4.60" stroke-linecap="butt"/>
<line x1="632.00" y1="255.40" x2="653.70" y2="254.66" stroke="#b4932f" stroke-width="4.60" stroke-linecap="round"/>
<line x1="632.00" y1="255.40" x2="640.30" y2="255.12" stroke="#e4e4e2" stroke-width="4.60" stroke-linecap="butt"/>
<line x1="640.30" y1="255.12" x2="644.00" y2="254.99" stroke="#c9b878" stroke-width="4.60" stroke-linecap="butt"/>
<line x1="644.00" y1="254.99" x2="649.60" y2="254.80" stroke="#e4e4e2" stroke-width="4.60" stroke-linecap="butt"/>
<line x1="632.00" y1="261.94" x2="653.70" y2="261.21" stroke="#b4932f" stroke-width="4.60" stroke-linecap="round"/>
<line x1="632.00" y1="261.94" x2="640.30" y2="261.66" stroke="#e4e4e2" stroke-width="4.60" stroke-linecap="butt"/>
<line x1="640.30" y1="261.66" x2="644.00" y2="261.54" stroke="#c9b878" stroke-width="4.60" stroke-linecap="butt"/>
<line x1="644.00" y1="261.54" x2="649.60" y2="261.35" stroke="#e4e4e2" stroke-width="4.60" stroke-linecap="butt"/>
<line x1="632.00" y1="268.48" x2="653.70" y2="267.77" stroke="#b4932f" stroke-width="4.60" stroke-linecap="round"/>
<line x1="632.00" y1="268.48" x2="640.30" y2="268.21" stroke="#e4e4e2" stroke-width="4.60" stroke-linecap="butt"/>
<line x1="640.30" y1="268.21" x2="644.00" y2="268.09" stroke="#c9b878" stroke-width="4.60" stroke-linecap="butt"/>
<line x1="644.00" y1="268.09" x2="649.60" y2="267.90" stroke="#e4e4e2" stroke-width="4.60" stroke-linecap="butt"/>
<line x1="632.00" y1="275.01" x2="653.70" y2="274.33" stroke="#b4932f" stroke-width="4.60" stroke-linecap="round"/>
<line x1="632.00" y1="275.01" x2="640.30" y2="274.75" stroke="#e4e4e2" stroke-width="4.60" stroke-linecap="butt"/>
<line x1="640.30" y1="274.75" x2="644.00" y2="274.63" stroke="#c9b878" stroke-width="4.60" stroke-linecap="butt"/>
<line x1="644.00" y1="274.63" x2="649.60" y2="274.46" stroke="#e4e4e2" stroke-width="4.60" stroke-linecap="butt"/>
<line x1="632.00" y1="281.55" x2="653.70" y2="280.88" stroke="#b4932f" stroke-width="4.60" stroke-linecap="round"/>
<line x1="632.00" y1="281.55" x2="640.30" y2="281.29" stroke="#e4e4e2" stroke-width="4.60" stroke-linecap="butt"/>
<line x1="640.30" y1="281.29" x2="644.00" y2="281.18" stroke="#c9b878" stroke-width="4.60" stroke-linecap="butt"/>
<line x1="644.00" y1="281.18" x2="649.60" y2="281.01" stroke="#e4e4e2" stroke-width="4.60" stroke-linecap="butt"/>
<line x1="632.00" y1="288.09" x2="653.70" y2="287.44" stroke="#b4932f" stroke-width="4.60" stroke-linecap="round"/>
<line x1="632.00" y1="288.09" x2="640.30" y2="287.84" stroke="#e4e4e2" stroke-width="4.60" stroke-linecap="butt"/>
<line x1="640.30" y1="287.84" x2="644.00" y2="287.73" stroke="#c9b878" stroke-width="4.60" stroke-linecap="butt"/>
<line x1="644.00" y1="287.73" x2="649.60" y2="287.56" stroke="#e4e4e2" stroke-width="4.60" stroke-linecap="butt"/>
<line x1="632.00" y1="294.62" x2="653.70" y2="294.00" stroke="#b4932f" stroke-width="4.60" stroke-linecap="round"/>
<line x1="632.00" y1="294.62" x2="640.30" y2="294.38" stroke="#e4e4e2" stroke-width="4.60" stroke-linecap="butt"/>
<line x1="640.30" y1="294.38" x2="644.00" y2="294.28" stroke="#c9b878" stroke-width="4.60" stroke-linecap="butt"/>
<line x1="644.00" y1="294.28" x2="649.60" y2="294.12" stroke="#e4e4e2" stroke-width="4.60" stroke-linecap="butt"/>
<line x1="632.00" y1="301.16" x2="653.70" y2="300.56" stroke="#b4932f" stroke-width="4.60" stroke-linecap="round"/>
<line x1="632.00" y1="301.16" x2="640.30" y2="300.93" stroke="#e4e4e2" stroke-width="4.60" stroke-linecap="butt"/>
<line x1="640.30" y1="300.93" x2="644.00" y2="300.83" stroke="#c9b878" stroke-width="4.60" stroke-linecap="butt"/>
<line x1="644.00" y1="300.83" x2="649.60" y2="300.67" stroke="#e4e4e2" stroke-width="4.60" stroke-linecap="butt"/>
<line x1="632.00" y1="307.70" x2="653.70" y2="307.11" stroke="#b4932f" stroke-width="4.60" stroke-linecap="round"/>
<line x1="632.00" y1="307.70" x2="640.30" y2="307.47" stroke="#e4e4e2" stroke-width="4.60" stroke-linecap="butt"/>
<line x1="640.30" y1="307.47" x2="644.00" y2="307.37" stroke="#c9b878" stroke-width="4.60" stroke-linecap="butt"/>
<line x1="644.00" y1="307.37" x2="649.60" y2="307.22" stroke="#e4e4e2" stroke-width="4.60" stroke-linecap="butt"/>
<line x1="632.00" y1="314.23" x2="653.70" y2="313.67" stroke="#b4932f" stroke-width="4.60" stroke-linecap="round"/>
<line x1="632.00" y1="314.23" x2="640.30" y2="314.02" stroke="#e4e4e2" stroke-width="4.60" stroke-linecap="butt"/>
<line x1="640.30" y1="314.02" x2="644.00" y2="313.92" stroke="#c9b878" stroke-width="4.60" stroke-linecap="butt"/>
<line x1="644.00" y1="313.92" x2="649.60" y2="313.78" stroke="#e4e4e2" stroke-width="4.60" stroke-linecap="butt"/>
<line x1="632.00" y1="320.77" x2="653.70" y2="320.23" stroke="#b4932f" stroke-width="4.60" stroke-linecap="round"/>
<line x1="632.00" y1="320.77" x2="640.30" y2="320.56" stroke="#e4e4e2" stroke-width="4.60" stroke-linecap="butt"/>
<line x1="640.30" y1="320.56" x2="644.00" y2="320.47" stroke="#c9b878" stroke-width="4.60" stroke-linecap="butt"/>
<line x1="644.00" y1="320.47" x2="649.60" y2="320.33" stroke="#e4e4e2" stroke-width="4.60" stroke-linecap="butt"/>
<polygon points="626.20,204.00 638.90,203.60 638.90,219.00 635.20,219.00 635.20,206.40 626.20,206.70" fill="#ffffff" />
<polygon points="635.60,325.00 639.10,325.00 639.20,339.30 626.00,339.70 626.00,336.90 635.70,336.60" fill="#ffffff" />
<polyline points="513.00,340.60 525.50,340.40" fill="none" stroke="#ffffff" stroke-width="2.20" />
<circle cx="521.70" cy="348.00" r="3.50" fill="#ffffff" />
<polyline points="516.50,209.30 521.50,209.10" fill="none" stroke="#d8d8d8" stroke-width="1.40" />
<path d="M510.00,216.40 Q510.00,213.40 513.00,213.25 L631.40,207.15 Q634.40,207.00 634.43,210.00 L635.47,334.80 Q635.50,337.80 632.50,337.83 L513.00,338.97 Q510.00,339.00 510.00,336.00 Z" fill="#3c3c3c"/>
<path d="M510.00,212.40 Q510.00,209.40 513.00,209.32 L627.20,206.08 Q630.20,206.00 630.23,209.00 L631.27,330.00 Q631.30,333.00 628.30,333.03 L513.00,334.17 Q510.00,334.20 510.00,331.20 Z" fill="#484749"/>
<circle cx="520.80" cy="325.00" r="3.90" fill="#8c8c8c" />
<text x="569.60" y="275.84" font-size="11.00" font-weight="normal" fill="#7a7a7a" text-anchor="middle" transform="rotate(-1.85 569.60 271.90)" textLength="63.5" lengthAdjust="spacingAndGlyphs" >LQFP64 10x10</text>
<text x="580.50" y="187.13" font-size="14.60" font-weight="normal" fill="#fff" stroke="#fff" stroke-width="0.45" text-anchor="middle" transform="rotate(-2.59 580.50 181.90)" textLength="15.6" lengthAdjust="spacingAndGlyphs" >U3</text>
<text x="680.30" y="304.41" font-size="14.00" font-weight="normal" fill="#fff" stroke="#fff" stroke-width="0.40" text-anchor="middle" transform="rotate(-1.59 680.30 299.40)" textLength="24.2" lengthAdjust="spacingAndGlyphs" >C23</text>
<path d="M679.80,305.95 L672.50,306.14 Q670.30,306.20 670.30,308.40 L670.30,317.90 Q670.30,320.10 672.50,320.04 L679.80,319.85 M684.60,305.83 L691.30,305.66 Q693.50,305.60 693.50,307.80 L693.50,317.30 Q693.50,319.50 691.30,319.56 L684.60,319.73 " fill="none" stroke="#ffffff" stroke-width="1.80"/>
<polygon points="673.38,308.85 676.78,308.76 676.82,315.56 673.42,315.64" fill="#e8e8e8" />
<polygon points="676.58,309.28 682.78,309.12 682.82,315.92 676.62,316.08" fill="#b08a2c" />
<polygon points="682.78,308.56 687.18,308.44 687.22,315.24 682.82,315.36" fill="#ececec" />
<polygon points="686.98,308.93 689.58,308.87 689.62,315.47 687.02,315.53" fill="#a9a9a9" />
<text x="626.70" y="354.21" font-size="14.00" font-weight="normal" fill="#fff" stroke="#fff" stroke-width="0.40" text-anchor="middle" transform="rotate(-1.20 626.70 349.20)" textLength="17.8" lengthAdjust="spacingAndGlyphs" >R17</text>
<path d="M630.50,357.00 L620.20,357.19 Q618.20,357.23 618.20,359.23 L618.20,373.33 Q618.20,375.33 620.20,375.29 L630.50,375.10 M640.50,356.82 L651.60,356.61 Q653.60,356.57 653.60,358.57 L653.60,372.67 Q653.60,374.67 651.60,374.71 L640.50,374.92 " fill="none" stroke="#ffffff" stroke-width="1.90"/>
<polygon points="620.78,359.43 624.18,359.37 624.22,371.17 620.82,371.23" fill="#b4932f" />
<polygon points="623.98,359.43 627.28,359.37 627.32,371.17 624.02,371.23" fill="#e8e8e8" />
<polygon points="639.98,359.25 645.37,359.15 645.43,370.95 640.03,371.05" fill="#e8e8e8" />
<polygon points="645.17,359.25 650.57,359.15 650.63,370.95 645.23,371.05" fill="#b4932f" />
<polygon points="627.08,360.43 640.18,360.17 640.22,370.08 627.12,370.32" fill="#4a4a4a" />
<text x="649.90" y="350.31" font-size="14.00" font-weight="normal" fill="#fff" stroke="#fff" stroke-width="0.40" text-anchor="middle" transform="rotate(-91.22 649.90 345.30)" textLength="17.2" lengthAdjust="spacingAndGlyphs" >U5</text>
<line x1="668.00" y1="331.00" x2="668.00" y2="339.00" stroke="#b4932f" stroke-width="5.00" stroke-linecap="round"/>
<line x1="668.00" y1="333.20" x2="668.00" y2="336.60" stroke="#d0d0ce" stroke-width="4.60" stroke-linecap="butt"/>
<line x1="668.00" y1="336.40" x2="664.60" y2="339.60" stroke="#9c9c9a" stroke-width="4.20" stroke-linecap="butt"/>
<line x1="664.60" y1="339.20" x2="664.60" y2="342.00" stroke="#cfcfcd" stroke-width="4.20" stroke-linecap="butt"/>
<line x1="668.00" y1="364.50" x2="668.00" y2="373.90" stroke="#b4932f" stroke-width="5.00" stroke-linecap="round"/>
<line x1="663.60" y1="359.00" x2="663.60" y2="362.60" stroke="#d8d8d6" stroke-width="4.20" stroke-linecap="butt"/>
<line x1="663.60" y1="362.20" x2="668.00" y2="366.40" stroke="#bdbdbb" stroke-width="4.20" stroke-linecap="butt"/>
<line x1="668.00" y1="366.00" x2="668.00" y2="369.60" stroke="#e2e2e0" stroke-width="4.60" stroke-linecap="butt"/>
<line x1="676.00" y1="331.00" x2="676.00" y2="339.00" stroke="#b4932f" stroke-width="5.00" stroke-linecap="round"/>
<line x1="676.00" y1="333.20" x2="676.00" y2="336.60" stroke="#d0d0ce" stroke-width="4.60" stroke-linecap="butt"/>
<line x1="676.00" y1="336.40" x2="672.60" y2="339.60" stroke="#9c9c9a" stroke-width="4.20" stroke-linecap="butt"/>
<line x1="672.60" y1="339.20" x2="672.60" y2="342.00" stroke="#cfcfcd" stroke-width="4.20" stroke-linecap="butt"/>
<line x1="676.00" y1="364.50" x2="676.00" y2="373.90" stroke="#b4932f" stroke-width="5.00" stroke-linecap="round"/>
<line x1="671.60" y1="359.00" x2="671.60" y2="362.60" stroke="#d8d8d6" stroke-width="4.20" stroke-linecap="butt"/>
<line x1="671.60" y1="362.20" x2="676.00" y2="366.40" stroke="#bdbdbb" stroke-width="4.20" stroke-linecap="butt"/>
<line x1="676.00" y1="366.00" x2="676.00" y2="369.60" stroke="#e2e2e0" stroke-width="4.60" stroke-linecap="butt"/>
<line x1="684.40" y1="331.00" x2="684.40" y2="339.00" stroke="#b4932f" stroke-width="5.00" stroke-linecap="round"/>
<line x1="684.40" y1="333.20" x2="684.40" y2="336.60" stroke="#d0d0ce" stroke-width="4.60" stroke-linecap="butt"/>
<line x1="684.40" y1="336.40" x2="681.00" y2="339.60" stroke="#9c9c9a" stroke-width="4.20" stroke-linecap="butt"/>
<line x1="681.00" y1="339.20" x2="681.00" y2="342.00" stroke="#cfcfcd" stroke-width="4.20" stroke-linecap="butt"/>
<line x1="684.40" y1="364.50" x2="684.40" y2="373.90" stroke="#b4932f" stroke-width="5.00" stroke-linecap="round"/>
<line x1="680.00" y1="359.00" x2="680.00" y2="362.60" stroke="#d8d8d6" stroke-width="4.20" stroke-linecap="butt"/>
<line x1="680.00" y1="362.20" x2="684.40" y2="366.40" stroke="#bdbdbb" stroke-width="4.20" stroke-linecap="butt"/>
<line x1="684.40" y1="366.00" x2="684.40" y2="369.60" stroke="#e2e2e0" stroke-width="4.60" stroke-linecap="butt"/>
<line x1="692.60" y1="331.00" x2="692.60" y2="339.00" stroke="#b4932f" stroke-width="5.00" stroke-linecap="round"/>
<line x1="692.60" y1="333.20" x2="692.60" y2="336.60" stroke="#d0d0ce" stroke-width="4.60" stroke-linecap="butt"/>
<line x1="692.60" y1="336.40" x2="689.20" y2="339.60" stroke="#9c9c9a" stroke-width="4.20" stroke-linecap="butt"/>
<line x1="689.20" y1="339.20" x2="689.20" y2="342.00" stroke="#cfcfcd" stroke-width="4.20" stroke-linecap="butt"/>
<line x1="692.60" y1="364.50" x2="692.60" y2="373.90" stroke="#b4932f" stroke-width="5.00" stroke-linecap="round"/>
<line x1="688.20" y1="359.00" x2="688.20" y2="362.60" stroke="#d8d8d6" stroke-width="4.20" stroke-linecap="butt"/>
<line x1="688.20" y1="362.20" x2="692.60" y2="366.40" stroke="#bdbdbb" stroke-width="4.20" stroke-linecap="butt"/>
<line x1="692.60" y1="366.00" x2="692.60" y2="369.60" stroke="#e2e2e0" stroke-width="4.60" stroke-linecap="butt"/>
<polyline points="696.20,340.60 698.50,340.60 698.70,361.80 696.40,361.80" fill="none" stroke="#ffffff" stroke-width="2.00" />
<circle cx="701.20" cy="334.40" r="3.40" fill="#ffffff" />
<polygon points="656.96,341.43 696.34,340.57 696.45,359.22 657.05,359.98" fill="#403f40" />
<polygon points="657.00,341.43 696.39,340.57 696.40,342.57 657.01,343.43" fill="#4a4a4a" />
<text x="678.00" y="352.00" font-size="4.20" font-weight="normal" fill="#5c5c5c" text-anchor="middle" transform="rotate(-1.18 678.00 350.50)" textLength="16.0" lengthAdjust="spacingAndGlyphs" >SOT-23L</text>
<circle cx="693.00" cy="344.80" r="0.60" fill="#6a6a6a" />
<path d="M619.20,389.73 L619.20,385.93 Q619.20,383.53 621.60,383.49 L647.90,383.11 Q650.30,383.07 650.30,385.47 L650.30,389.27 M619.20,395.73 L619.20,398.83 Q619.20,401.23 621.60,401.19 L647.90,400.81 Q650.30,400.77 650.30,398.37 L650.30,395.27 " fill="none" stroke="#ffffff" stroke-width="1.90"/>
<polygon points="621.98,386.38 632.38,386.22 632.42,398.33 622.02,398.47" fill="#a18231" />
<polygon points="637.77,386.38 648.27,386.22 648.33,398.33 637.83,398.47" fill="#a18231" />
<text x="628.90" y="414.88" font-size="14.20" font-weight="bold" fill="#fff" text-anchor="middle" transform="rotate(-0.69 628.90 409.80)" textLength="23.0" lengthAdjust="spacingAndGlyphs" >JMP</text>
<rect x="656.00" y="407.40" width="19.00" height="36.00" rx="9.50" ry="9.50" fill="#a18231"/>
<text x="664.00" y="405.71" font-size="11.20" font-weight="normal" fill="#fff" stroke="#fff" stroke-width="0.50" text-anchor="middle" transform="rotate(-0.76 664.00 401.70)" textLength="22.9" lengthAdjust="spacingAndGlyphs" >CANL</text>
<rect x="687.00" y="407.60" width="19.90" height="35.40" rx="9.95" ry="9.95" fill="#a18231"/>
<text x="695.60" y="405.71" font-size="11.20" font-weight="normal" fill="#fff" stroke="#fff" stroke-width="0.50" text-anchor="middle" transform="rotate(-0.75 695.60 401.70)" textLength="24.8" lengthAdjust="spacingAndGlyphs" >CANH</text>
<rect x="719.00" y="407.40" width="19.80" height="35.10" rx="9.90" ry="9.90" fill="#a18231"/>
<text x="727.80" y="405.71" font-size="11.20" font-weight="normal" fill="#fff" stroke="#fff" stroke-width="0.50" text-anchor="middle" transform="rotate(-0.75 727.80 401.70)" textLength="18.0" lengthAdjust="spacingAndGlyphs" >GND</text>
<text x="758.30" y="62.17" font-size="15.00" font-weight="bold" fill="#fff" text-anchor="middle" transform="rotate(-3.54 758.30 56.80)" textLength="16.4" lengthAdjust="spacingAndGlyphs" >D2</text>
<polyline points="769.90,49.50 769.60,101.40 846.30,97.80" fill="none" stroke="#ffffff" stroke-width="1.90" stroke-linejoin="miter"/>
<polyline points="832.00,46.90 846.30,46.60" fill="none" stroke="#ffffff" stroke-width="1.50" />
<polyline points="818.20,94.00 818.20,99.00" fill="none" stroke="#ffffff" stroke-width="1.50" />
<polygon points="840.00,46.40 846.40,46.30 846.40,54.90 840.00,55.10" fill="#ffffff" />
<ellipse cx="843.90" cy="51.30" rx="1.40" ry="1.50" fill="#80815a" />
<polygon points="840.00,88.90 846.40,88.80 846.40,98.40 840.00,98.60" fill="#ffffff" />
<ellipse cx="843.90" cy="91.80" rx="1.40" ry="1.50" fill="#80815a" />
<polygon points="761.18,61.30 770.87,60.71 771.13,91.72 761.43,92.27" fill="#a18231" />
<polygon points="838.00,56.50 850.40,56.00 850.40,86.80 838.00,87.30" fill="#a18231" />
<ellipse cx="844.20" cy="60.50" rx="1.40" ry="1.50" fill="#705e24" />
<ellipse cx="844.20" cy="71.20" rx="1.40" ry="1.50" fill="#705e24" />
<ellipse cx="844.20" cy="81.80" rx="1.40" ry="1.50" fill="#705e24" />
<polygon points="832.00,55.60 839.30,55.30 839.30,84.80 832.00,85.20" fill="#c9c9c9" />
<polygon points="835.00,55.50 837.30,55.40 837.30,84.90 835.00,85.00" fill="#f2f2f2" />
<polygon points="832.00,83.20 839.30,82.80 839.30,85.30 832.00,85.70" fill="#9a9a9a" />
<polygon points="767.50,78.00 771.00,78.00 771.00,90.50 767.50,90.80" fill="#bdbdbd" />
<polygon points="770.70,89.80 826.00,88.60 833.60,90.20 833.60,93.80 819.50,95.00 771.20,97.00" fill="#2f2f2f" />
<polygon points="825.80,46.00 832.00,46.30 832.20,92.00 826.00,90.00" fill="#2c2c2c" />
<polygon points="769.80,49.30 826.00,46.00 826.20,89.00 770.70,90.40" fill="#4a4a4a" />
<polygon points="820.80,46.30 823.30,46.20 823.50,89.00 821.00,89.10" fill="#bcbcbc" />
<polygon points="823.30,46.20 826.00,46.00 826.20,89.00 823.50,89.00" fill="#6a6a6a" />
<text x="801.00" y="94.66" font-size="3.80" font-weight="normal" fill="#777" text-anchor="middle" transform="rotate(-3.23 801.00 93.30)" textLength="26.0" lengthAdjust="spacingAndGlyphs" >SMA DO-214</text>
<polygon points="765.00,115.67 785.00,114.63 785.00,139.93 765.00,140.97" fill="#a18231" />
<polygon points="808.00,113.24 828.00,112.20 828.00,137.70 808.00,138.74" fill="#a18231" />
<path d="M785.00,112.33 L764.90,113.38 Q762.50,113.50 762.50,115.90 L762.50,141.10 Q762.50,143.50 764.90,143.38 L785.00,142.33 M808.00,111.14 L827.60,110.12 Q830.00,110.00 830.00,112.40 L830.00,137.60 Q830.00,140.00 827.60,140.12 L808.00,141.14 " fill="none" stroke="#ffffff" stroke-width="1.90"/>
<polygon points="771.50,135.16 777.50,134.84 777.50,137.34 771.50,137.66" fill="#8a8a86" />
<polygon points="807.00,134.17 816.50,133.68 816.50,136.18 807.00,136.67" fill="#8a8a86" />
<polygon points="813.20,111.89 816.50,111.72 816.50,135.62 813.20,135.79" fill="#8f8f8f" />
<polygon points="777.50,134.26 807.00,132.74 807.00,135.24 777.50,136.76" fill="#e8a000" />
<polygon points="777.20,114.48 807.30,112.92 807.30,133.22 777.20,134.78" fill="#ffb505" />
<polygon points="771.50,113.66 777.50,113.34 777.50,135.34 771.50,135.66" fill="#f1f1f1" />
<polygon points="807.00,111.17 813.50,110.83 813.50,134.33 807.00,134.67" fill="#f1f1f1" />
<polygon points="765.29,149.51 785.29,148.58 785.29,173.83 765.29,174.76" fill="#a18231" />
<polygon points="808.21,147.38 828.36,146.45 828.36,171.80 808.21,172.74" fill="#a18231" />
<path d="M785.29,146.24 L765.19,147.17 Q762.79,147.29 762.79,149.69 L762.79,174.89 Q762.79,177.29 765.19,177.17 L785.29,176.24 M808.21,145.17 L827.96,144.25 Q830.36,144.14 830.36,146.54 L830.36,171.74 Q830.36,174.14 827.96,174.25 L808.21,175.17 " fill="none" stroke="#ffffff" stroke-width="1.90"/>
<polygon points="771.71,169.21 777.71,168.93 777.71,171.15 771.71,171.43" fill="#8a8a86" />
<polygon points="807.36,168.29 816.86,167.85 816.86,170.06 807.36,170.51" fill="#8a8a86" />
<polygon points="813.49,146.31 816.86,146.16 816.86,169.60 813.49,169.76" fill="#8f8f8f" />
<polygon points="777.71,168.48 807.36,167.10 807.36,169.31 777.71,170.69" fill="#e8a000" />
<polygon points="777.41,148.52 807.66,147.11 807.66,167.58 777.41,168.99" fill="#ffb505" />
<polygon points="771.71,147.85 777.71,147.57 777.71,169.43 771.71,169.71" fill="#f1f1f1" />
<polygon points="807.36,145.58 813.79,145.28 813.79,168.49 807.36,168.79" fill="#f1f1f1" />
<polygon points="765.57,183.35 785.57,182.52 785.57,207.74 765.57,208.56" fill="#a18231" />
<polygon points="808.43,181.53 828.71,180.69 828.71,205.91 808.43,206.74" fill="#a18231" />
<path d="M785.57,180.14 L765.47,180.97 Q763.07,181.07 763.07,183.47 L763.07,208.67 Q763.07,211.07 765.47,210.97 L785.57,210.14 M808.43,179.20 L828.31,178.38 Q830.71,178.29 830.71,180.69 L830.71,205.89 Q830.71,208.29 828.31,208.38 L808.43,209.20 " fill="none" stroke="#ffffff" stroke-width="1.90"/>
<polygon points="771.93,203.27 777.93,203.02 777.93,204.95 771.93,205.19" fill="#8a8a86" />
<polygon points="807.71,202.42 817.21,202.03 817.21,203.95 807.71,204.35" fill="#8a8a86" />
<polygon points="813.77,180.73 817.21,180.59 817.21,203.58 813.77,203.72" fill="#8f8f8f" />
<polygon points="777.93,202.68 807.71,201.46 807.71,203.39 777.93,204.61" fill="#e8a000" />
<polygon points="777.63,182.55 808.01,181.30 808.01,201.95 777.63,203.20" fill="#ffb505" />
<polygon points="771.93,182.05 777.93,181.81 777.93,203.52 771.93,203.77" fill="#f1f1f1" />
<polygon points="807.71,179.99 814.07,179.73 814.07,202.65 807.71,202.92" fill="#f1f1f1" />
<polygon points="765.86,217.18 785.86,216.47 785.86,241.64 765.86,242.36" fill="#a18231" />
<polygon points="808.64,215.67 829.07,214.94 829.07,240.01 808.64,240.74" fill="#a18231" />
<path d="M785.86,214.05 L765.76,214.77 Q763.36,214.86 763.36,217.26 L763.36,242.46 Q763.36,244.86 765.76,244.77 L785.86,244.05 M808.64,213.23 L828.67,212.51 Q831.07,212.43 831.07,214.83 L831.07,240.03 Q831.07,242.43 828.67,242.51 L808.64,243.23 " fill="none" stroke="#ffffff" stroke-width="1.90"/>
<polygon points="772.14,237.32 778.14,237.11 778.14,238.75 772.14,238.96" fill="#8a8a86" />
<polygon points="808.07,236.54 817.57,236.20 817.57,237.84 808.07,238.18" fill="#8a8a86" />
<polygon points="814.06,215.15 817.57,215.03 817.57,237.56 814.06,237.68" fill="#8f8f8f" />
<polygon points="778.14,236.89 808.07,235.82 808.07,237.46 778.14,238.54" fill="#e8a000" />
<polygon points="777.84,216.59 808.37,215.50 808.37,236.31 777.84,237.40" fill="#ffb505" />
<polygon points="772.14,216.25 778.14,216.04 778.14,237.61 772.14,237.82" fill="#f1f1f1" />
<polygon points="808.07,214.40 814.36,214.17 814.36,236.82 808.07,237.04" fill="#f1f1f1" />
<polygon points="766.14,251.02 786.14,250.41 786.14,275.54 766.14,276.15" fill="#a18231" />
<polygon points="808.86,249.81 829.43,249.18 829.43,274.11 808.86,274.74" fill="#a18231" />
<path d="M786.14,247.96 L766.04,248.57 Q763.64,248.64 763.64,251.04 L763.64,276.24 Q763.64,278.64 766.04,278.57 L786.14,277.96 M808.86,247.26 L829.03,246.64 Q831.43,246.57 831.43,248.97 L831.43,274.17 Q831.43,276.57 829.03,276.64 L808.86,277.26 " fill="none" stroke="#ffffff" stroke-width="1.90"/>
<polygon points="772.36,271.38 778.36,271.19 778.36,272.55 772.36,272.73" fill="#8a8a86" />
<polygon points="808.43,270.67 817.93,270.38 817.93,271.73 808.43,272.02" fill="#8a8a86" />
<polygon points="814.34,249.57 817.93,249.46 817.93,271.54 814.34,271.65" fill="#8f8f8f" />
<polygon points="778.36,271.10 808.43,270.18 808.43,271.54 778.36,272.46" fill="#e8a000" />
<polygon points="778.06,250.63 808.73,249.69 808.73,270.67 778.06,271.61" fill="#ffb505" />
<polygon points="772.36,250.45 778.36,250.27 778.36,271.69 772.36,271.88" fill="#f1f1f1" />
<polygon points="808.43,248.81 814.64,248.62 814.64,270.98 808.43,271.17" fill="#f1f1f1" />
<polygon points="766.43,284.86 786.43,284.36 786.43,309.44 766.43,309.95" fill="#a18231" />
<polygon points="809.07,283.95 829.79,283.43 829.79,308.21 809.07,308.74" fill="#a18231" />
<path d="M786.43,281.86 L766.33,282.37 Q763.93,282.43 763.93,284.83 L763.93,310.03 Q763.93,312.43 766.33,312.37 L786.43,311.86 M809.07,281.29 L829.39,280.77 Q831.79,280.71 831.79,283.11 L831.79,308.31 Q831.79,310.71 829.39,310.77 L809.07,311.29 " fill="none" stroke="#ffffff" stroke-width="1.90"/>
<polygon points="772.57,305.43 778.57,305.28 778.57,306.35 772.57,306.50" fill="#8a8a86" />
<polygon points="808.79,304.79 818.29,304.55 818.29,305.62 808.79,305.86" fill="#8a8a86" />
<polygon points="814.63,283.99 818.29,283.90 818.29,305.51 814.63,305.61" fill="#8f8f8f" />
<polygon points="778.57,305.31 808.79,304.55 808.79,305.62 778.57,306.38" fill="#e8a000" />
<polygon points="778.27,284.66 809.09,283.88 809.09,305.04 778.27,305.82" fill="#ffb505" />
<polygon points="772.57,284.65 778.57,284.50 778.57,305.78 772.57,305.93" fill="#f1f1f1" />
<polygon points="808.79,283.22 814.93,283.07 814.93,305.14 808.79,305.29" fill="#f1f1f1" />
<polygon points="766.71,318.70 786.71,318.30 786.71,343.35 766.71,343.75" fill="#a18231" />
<polygon points="809.29,318.09 830.14,317.67 830.14,342.31 809.29,342.73" fill="#a18231" />
<path d="M786.71,315.76 L766.61,316.17 Q764.21,316.21 764.21,318.61 L764.21,343.81 Q764.21,346.21 766.61,346.17 L786.71,345.76 M809.29,315.31 L829.74,314.91 Q832.14,314.86 832.14,317.26 L832.14,342.46 Q832.14,344.86 829.74,344.91 L809.29,345.31 " fill="none" stroke="#ffffff" stroke-width="1.90"/>
<polygon points="772.79,339.49 778.79,339.37 778.79,340.15 772.79,340.27" fill="#8a8a86" />
<polygon points="809.14,338.92 818.64,338.73 818.64,339.51 809.14,339.70" fill="#8a8a86" />
<polygon points="814.91,318.41 818.64,318.34 818.64,339.49 814.91,339.57" fill="#8f8f8f" />
<polygon points="778.79,339.52 809.14,338.91 809.14,339.70 778.79,340.30" fill="#e8a000" />
<polygon points="778.49,318.69 809.44,318.08 809.44,339.41 778.49,340.02" fill="#ffb505" />
<polygon points="772.79,318.85 778.79,318.73 778.79,339.87 772.79,339.99" fill="#f1f1f1" />
<polygon points="809.14,317.63 815.21,317.51 815.21,339.30 809.14,339.42" fill="#f1f1f1" />
<polygon points="767.00,352.54 787.00,352.25 787.00,377.25 767.00,377.54" fill="#a18231" />
<polygon points="809.50,352.22 830.50,351.92 830.50,376.42 809.50,376.72" fill="#a18231" />
<path d="M787.00,349.67 L766.90,349.96 Q764.50,350.00 764.50,352.40 L764.50,377.60 Q764.50,380.00 766.90,379.96 L787.00,379.67 M809.50,349.34 L830.10,349.04 Q832.50,349.00 832.50,351.40 L832.50,376.60 Q832.50,379.00 830.10,379.04 L809.50,379.34 " fill="none" stroke="#ffffff" stroke-width="1.90"/>
<polygon points="773.00,373.54 779.00,373.46 779.00,373.96 773.00,374.04" fill="#8a8a86" />
<polygon points="809.50,373.04 819.00,372.90 819.00,373.40 809.50,373.54" fill="#8a8a86" />
<polygon points="815.20,352.83 819.00,352.77 819.00,373.47 815.20,373.53" fill="#8f8f8f" />
<polygon points="779.00,373.72 809.50,373.28 809.50,373.78 779.00,374.22" fill="#e8a000" />
<polygon points="778.70,352.73 809.80,352.27 809.80,373.77 778.70,374.23" fill="#ffb505" />
<polygon points="773.00,353.04 779.00,352.96 779.00,373.96 773.00,374.04" fill="#f1f1f1" />
<polygon points="809.50,352.04 815.50,351.96 815.50,373.46 809.50,373.54" fill="#f1f1f1" />
<polygon points="841.00,111.68 861.50,110.64 861.50,135.64 841.00,136.68" fill="#a18231" />
<polygon points="884.50,109.27 905.50,108.21 905.50,133.21 884.50,134.27" fill="#a18231" />
<path d="M861.50,108.34 L840.90,109.38 Q838.50,109.50 838.50,111.90 L838.50,136.60 Q838.50,139.00 840.90,138.88 L861.50,137.84 M884.50,107.18 L905.60,106.12 Q908.00,106.00 908.00,108.40 L908.00,133.10 Q908.00,135.50 905.60,135.62 L884.50,136.68 " fill="none" stroke="#ffffff" stroke-width="1.90"/>
<polygon points="848.00,131.15 854.00,130.85 854.00,133.35 848.00,133.65" fill="#8a8a86" />
<polygon points="884.50,129.66 894.00,129.19 894.00,131.69 884.50,132.16" fill="#8a8a86" />
<polygon points="890.70,107.89 894.00,107.72 894.00,131.12 890.70,131.29" fill="#8f8f8f" />
<polygon points="854.00,130.77 884.50,129.23 884.50,131.73 854.00,133.27" fill="#e8a000" />
<polygon points="853.70,110.48 884.80,108.92 884.80,129.72 853.70,131.28" fill="#ffb505" />
<polygon points="848.00,110.15 854.00,109.85 854.00,131.35 848.00,131.65" fill="#f1f1f1" />
<polygon points="884.50,107.16 891.00,106.84 891.00,129.84 884.50,130.16" fill="#f1f1f1" />
<polygon points="841.36,145.81 861.93,144.85 861.93,169.99 841.36,170.95" fill="#a18231" />
<polygon points="884.93,143.64 906.00,142.66 906.00,167.73 884.93,168.71" fill="#a18231" />
<path d="M861.93,142.55 L841.26,143.51 Q838.86,143.62 838.86,146.03 L838.86,170.83 Q838.86,173.23 841.26,173.12 L861.93,172.16 M884.93,141.47 L906.10,140.49 Q908.50,140.38 908.50,142.78 L908.50,167.58 Q908.50,169.98 906.10,170.09 L884.93,171.08 " fill="none" stroke="#ffffff" stroke-width="1.90"/>
<polygon points="848.43,165.57 854.36,165.29 854.36,167.50 848.43,167.78" fill="#8a8a86" />
<polygon points="884.93,164.22 894.46,163.78 894.46,165.99 884.93,166.44" fill="#8a8a86" />
<polygon points="891.13,142.67 894.46,142.52 894.46,165.53 891.13,165.68" fill="#8f8f8f" />
<polygon points="854.36,165.36 884.93,163.93 884.93,166.14 854.36,167.57" fill="#e8a000" />
<polygon points="854.06,144.90 885.23,143.44 885.23,164.42 854.06,165.87" fill="#ffb505" />
<polygon points="848.43,144.64 854.36,144.36 854.36,165.79 848.43,166.07" fill="#f1f1f1" />
<polygon points="884.93,141.94 891.43,141.63 891.43,164.42 884.93,164.72" fill="#f1f1f1" />
<polygon points="841.71,179.94 862.36,179.05 862.36,204.34 841.71,205.22" fill="#a18231" />
<polygon points="885.36,178.02 906.50,177.11 906.50,202.25 885.36,203.16" fill="#a18231" />
<path d="M862.36,176.76 L841.61,177.65 Q839.21,177.75 839.21,180.15 L839.21,205.06 Q839.21,207.46 841.61,207.36 L862.36,206.47 M885.36,175.77 L906.60,174.85 Q909.00,174.75 909.00,177.15 L909.00,202.06 Q909.00,204.46 906.60,204.57 L885.36,205.48 " fill="none" stroke="#ffffff" stroke-width="1.90"/>
<polygon points="848.86,199.98 854.71,199.73 854.71,201.66 848.86,201.91" fill="#8a8a86" />
<polygon points="885.36,198.78 894.91,198.37 894.91,200.30 885.36,200.71" fill="#8a8a86" />
<polygon points="891.56,177.45 894.91,177.31 894.91,199.93 891.56,200.08" fill="#8f8f8f" />
<polygon points="854.71,199.94 885.36,198.63 885.36,200.56 854.71,201.87" fill="#e8a000" />
<polygon points="854.41,179.31 885.66,177.97 885.66,199.11 854.41,200.46" fill="#ffb505" />
<polygon points="848.86,179.13 854.71,178.87 854.71,200.23 848.86,200.48" fill="#f1f1f1" />
<polygon points="885.36,176.71 891.86,176.43 891.86,199.00 885.36,199.28" fill="#f1f1f1" />
<polygon points="842.07,214.07 862.79,213.26 862.79,238.68 842.07,239.50" fill="#a18231" />
<polygon points="885.79,212.39 907.00,211.56 907.00,236.77 885.79,237.61" fill="#a18231" />
<path d="M862.79,210.96 L841.97,211.78 Q839.57,211.88 839.57,214.28 L839.57,239.30 Q839.57,241.70 841.97,241.60 L862.79,240.78 M885.79,210.06 L907.10,209.22 Q909.50,209.12 909.50,211.53 L909.50,236.55 Q909.50,238.95 907.10,239.04 L885.79,239.88 " fill="none" stroke="#ffffff" stroke-width="1.90"/>
<polygon points="849.29,234.40 855.07,234.17 855.07,235.81 849.29,236.04" fill="#8a8a86" />
<polygon points="885.79,233.34 895.37,232.97 895.37,234.61 885.79,234.98" fill="#8a8a86" />
<polygon points="891.99,212.23 895.37,212.10 895.37,234.34 891.99,234.47" fill="#8f8f8f" />
<polygon points="855.07,234.53 885.79,233.32 885.79,234.97 855.07,236.18" fill="#e8a000" />
<polygon points="854.77,213.73 886.09,212.50 886.09,233.81 854.77,235.04" fill="#ffb505" />
<polygon points="849.29,213.61 855.07,213.39 855.07,234.67 849.29,234.90" fill="#f1f1f1" />
<polygon points="885.79,211.48 892.29,211.23 892.29,233.59 885.79,233.84" fill="#f1f1f1" />
<polygon points="842.43,248.20 863.21,247.46 863.21,273.03 842.43,273.77" fill="#a18231" />
<polygon points="886.21,246.77 907.50,246.01 907.50,271.29 886.21,272.05" fill="#a18231" />
<path d="M863.21,245.17 L842.33,245.91 Q839.93,246.00 839.93,248.40 L839.93,273.53 Q839.93,275.93 842.33,275.84 L863.21,275.10 M886.21,244.35 L907.60,243.59 Q910.00,243.50 910.00,245.90 L910.00,271.03 Q910.00,273.43 907.60,273.51 L886.21,274.28 " fill="none" stroke="#ffffff" stroke-width="1.90"/>
<polygon points="849.71,268.82 855.43,268.61 855.43,269.97 849.71,270.17" fill="#8a8a86" />
<polygon points="886.21,267.90 895.83,267.56 895.83,268.92 886.21,269.26" fill="#8a8a86" />
<polygon points="892.41,247.01 895.83,246.89 895.83,268.74 892.41,268.87" fill="#8f8f8f" />
<polygon points="855.43,269.12 886.21,268.02 886.21,269.38 855.43,270.48" fill="#e8a000" />
<polygon points="855.13,248.15 886.51,247.03 886.51,268.51 855.13,269.63" fill="#ffb505" />
<polygon points="849.71,248.10 855.43,247.90 855.43,269.11 849.71,269.32" fill="#f1f1f1" />
<polygon points="886.21,246.26 892.71,246.03 892.71,268.17 886.21,268.40" fill="#f1f1f1" />
<polygon points="842.79,282.33 863.64,281.66 863.64,307.38 842.79,308.05" fill="#a18231" />
<polygon points="886.64,281.14 908.00,280.46 908.00,305.81 886.64,306.50" fill="#a18231" />
<path d="M863.64,279.38 L842.69,280.05 Q840.29,280.12 840.29,282.52 L840.29,307.76 Q840.29,310.16 842.69,310.08 L863.64,309.41 M886.64,278.64 L908.10,277.95 Q910.50,277.88 910.50,280.27 L910.50,305.51 Q910.50,307.91 908.10,307.99 L886.64,308.68 " fill="none" stroke="#ffffff" stroke-width="1.90"/>
<polygon points="850.14,303.23 855.79,303.05 855.79,304.12 850.14,304.30" fill="#8a8a86" />
<polygon points="886.64,302.46 896.29,302.15 896.29,303.22 886.64,303.53" fill="#8a8a86" />
<polygon points="892.84,281.79 896.29,281.68 896.29,303.15 892.84,303.26" fill="#8f8f8f" />
<polygon points="855.79,303.71 886.64,302.72 886.64,303.79 855.79,304.78" fill="#e8a000" />
<polygon points="855.49,282.56 886.94,281.55 886.94,303.21 855.49,304.22" fill="#ffb505" />
<polygon points="850.14,282.59 855.79,282.41 855.79,303.55 850.14,303.73" fill="#f1f1f1" />
<polygon points="886.64,281.03 893.14,280.82 893.14,302.75 886.64,302.96" fill="#f1f1f1" />
<polygon points="843.14,316.46 864.07,315.87 864.07,341.72 843.14,342.32" fill="#a18231" />
<polygon points="887.07,315.51 908.50,314.90 908.50,340.33 887.07,340.94" fill="#a18231" />
<path d="M864.07,313.58 L843.04,314.18 Q840.64,314.25 840.64,316.65 L840.64,341.99 Q840.64,344.39 843.04,344.32 L864.07,343.73 M887.07,312.93 L908.60,312.32 Q911.00,312.25 911.00,314.65 L911.00,339.99 Q911.00,342.39 908.60,342.46 L887.07,343.07 " fill="none" stroke="#ffffff" stroke-width="1.90"/>
<polygon points="850.57,337.65 856.14,337.49 856.14,338.28 850.57,338.44" fill="#8a8a86" />
<polygon points="887.07,337.02 896.74,336.75 896.74,337.53 887.07,337.81" fill="#8a8a86" />
<polygon points="893.27,316.57 896.74,316.47 896.74,337.55 893.27,337.65" fill="#8f8f8f" />
<polygon points="856.14,338.30 887.07,337.42 887.07,338.20 856.14,339.08" fill="#e8a000" />
<polygon points="855.84,316.98 887.37,316.08 887.37,337.91 855.84,338.81" fill="#ffb505" />
<polygon points="850.57,317.08 856.14,316.92 856.14,337.99 850.57,338.15" fill="#f1f1f1" />
<polygon points="887.07,315.81 893.57,315.62 893.57,337.34 887.07,337.52" fill="#f1f1f1" />
<polygon points="843.50,350.59 864.50,350.07 864.50,376.07 843.50,376.59" fill="#a18231" />
<polygon points="887.50,349.89 909.00,349.35 909.00,374.85 887.50,375.39" fill="#a18231" />
<path d="M864.50,347.79 L843.40,348.32 Q841.00,348.38 841.00,350.77 L841.00,376.23 Q841.00,378.62 843.40,378.57 L864.50,378.04 M887.50,347.22 L909.10,346.68 Q911.50,346.62 911.50,349.02 L911.50,374.48 Q911.50,376.88 909.10,376.93 L887.50,377.47 " fill="none" stroke="#ffffff" stroke-width="1.90"/>
<polygon points="851.00,372.07 856.50,371.93 856.50,372.43 851.00,372.57" fill="#8a8a86" />
<polygon points="887.50,371.58 897.20,371.34 897.20,371.84 887.50,372.08" fill="#8a8a86" />
<polygon points="893.70,351.35 897.20,351.26 897.20,371.96 893.70,372.05" fill="#8f8f8f" />
<polygon points="856.50,372.88 887.50,372.12 887.50,372.62 856.50,373.38" fill="#e8a000" />
<polygon points="856.20,351.39 887.80,350.61 887.80,372.61 856.20,373.39" fill="#ffb505" />
<polygon points="851.00,351.57 856.50,351.43 856.50,372.43 851.00,372.57" fill="#f1f1f1" />
<polygon points="887.50,350.58 894.00,350.42 894.00,371.92 887.50,372.08" fill="#f1f1f1" />
</svg>
</body></html>
